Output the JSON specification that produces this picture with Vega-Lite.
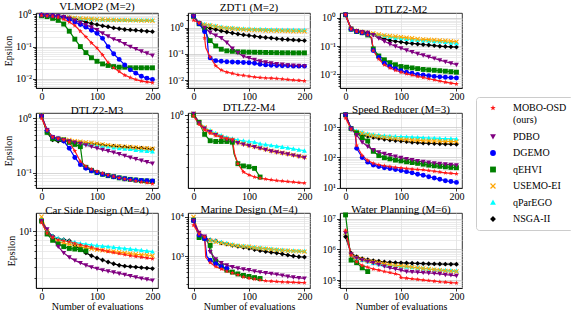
{
"$schema":"https://vega.github.io/schema/vega-lite/v6.json",
"padding":{"left":3,"top":0,"right":0,"bottom":0},
"data":{"values":[
{"p":1,"m":"NSGA-II","x":0,"y":0.95},{"p":1,"m":"NSGA-II","x":10,"y":0.93},{"p":1,"m":"NSGA-II","x":20,"y":0.9},{"p":1,"m":"NSGA-II","x":30,"y":0.87},{"p":1,"m":"NSGA-II","x":40,"y":0.83},{"p":1,"m":"NSGA-II","x":50,"y":0.78},{"p":1,"m":"NSGA-II","x":60,"y":0.72},{"p":1,"m":"NSGA-II","x":70,"y":0.65},{"p":1,"m":"NSGA-II","x":80,"y":0.58},{"p":1,"m":"NSGA-II","x":90,"y":0.52},{"p":1,"m":"NSGA-II","x":100,"y":0.48},{"p":1,"m":"NSGA-II","x":110,"y":0.44},{"p":1,"m":"NSGA-II","x":120,"y":0.41},{"p":1,"m":"NSGA-II","x":130,"y":0.38},{"p":1,"m":"NSGA-II","x":140,"y":0.36},{"p":1,"m":"NSGA-II","x":150,"y":0.34},{"p":1,"m":"NSGA-II","x":160,"y":0.33},{"p":1,"m":"NSGA-II","x":170,"y":0.32},{"p":1,"m":"NSGA-II","x":180,"y":0.31},{"p":1,"m":"NSGA-II","x":190,"y":0.3},{"p":1,"m":"NSGA-II","x":200,"y":0.29},
{"p":1,"m":"qParEGO","x":0,"y":0.95},{"p":1,"m":"qParEGO","x":10,"y":0.92},{"p":1,"m":"qParEGO","x":20,"y":0.88},{"p":1,"m":"qParEGO","x":30,"y":0.85},{"p":1,"m":"qParEGO","x":40,"y":0.82},{"p":1,"m":"qParEGO","x":50,"y":0.79},{"p":1,"m":"qParEGO","x":60,"y":0.76},{"p":1,"m":"qParEGO","x":70,"y":0.74},{"p":1,"m":"qParEGO","x":80,"y":0.72},{"p":1,"m":"qParEGO","x":90,"y":0.71},{"p":1,"m":"qParEGO","x":100,"y":0.7},{"p":1,"m":"qParEGO","x":110,"y":0.69},{"p":1,"m":"qParEGO","x":120,"y":0.68},{"p":1,"m":"qParEGO","x":130,"y":0.68},{"p":1,"m":"qParEGO","x":140,"y":0.67},{"p":1,"m":"qParEGO","x":150,"y":0.67},{"p":1,"m":"qParEGO","x":160,"y":0.67},{"p":1,"m":"qParEGO","x":170,"y":0.66},{"p":1,"m":"qParEGO","x":180,"y":0.66},{"p":1,"m":"qParEGO","x":190,"y":0.66},{"p":1,"m":"qParEGO","x":200,"y":0.66},
{"p":1,"m":"USEMO-EI","x":0,"y":0.95},{"p":1,"m":"USEMO-EI","x":10,"y":0.92},{"p":1,"m":"USEMO-EI","x":20,"y":0.88},{"p":1,"m":"USEMO-EI","x":30,"y":0.85},{"p":1,"m":"USEMO-EI","x":40,"y":0.82},{"p":1,"m":"USEMO-EI","x":50,"y":0.8},{"p":1,"m":"USEMO-EI","x":60,"y":0.77},{"p":1,"m":"USEMO-EI","x":70,"y":0.75},{"p":1,"m":"USEMO-EI","x":80,"y":0.73},{"p":1,"m":"USEMO-EI","x":90,"y":0.72},{"p":1,"m":"USEMO-EI","x":100,"y":0.7},{"p":1,"m":"USEMO-EI","x":110,"y":0.69},{"p":1,"m":"USEMO-EI","x":120,"y":0.68},{"p":1,"m":"USEMO-EI","x":130,"y":0.67},{"p":1,"m":"USEMO-EI","x":140,"y":0.66},{"p":1,"m":"USEMO-EI","x":150,"y":0.66},{"p":1,"m":"USEMO-EI","x":160,"y":0.65},{"p":1,"m":"USEMO-EI","x":170,"y":0.65},{"p":1,"m":"USEMO-EI","x":180,"y":0.64},{"p":1,"m":"USEMO-EI","x":190,"y":0.64},{"p":1,"m":"USEMO-EI","x":200,"y":0.63},
{"p":1,"m":"qEHVI","x":0,"y":0.9},{"p":1,"m":"qEHVI","x":10,"y":0.85},{"p":1,"m":"qEHVI","x":20,"y":0.75},{"p":1,"m":"qEHVI","x":30,"y":0.65},{"p":1,"m":"qEHVI","x":40,"y":0.5},{"p":1,"m":"qEHVI","x":50,"y":0.3},{"p":1,"m":"qEHVI","x":60,"y":0.17},{"p":1,"m":"qEHVI","x":70,"y":0.1},{"p":1,"m":"qEHVI","x":80,"y":0.065},{"p":1,"m":"qEHVI","x":90,"y":0.045},{"p":1,"m":"qEHVI","x":100,"y":0.035},{"p":1,"m":"qEHVI","x":110,"y":0.029},{"p":1,"m":"qEHVI","x":120,"y":0.026},{"p":1,"m":"qEHVI","x":130,"y":0.024},{"p":1,"m":"qEHVI","x":140,"y":0.023},{"p":1,"m":"qEHVI","x":150,"y":0.023},{"p":1,"m":"qEHVI","x":160,"y":0.022},{"p":1,"m":"qEHVI","x":170,"y":0.022},{"p":1,"m":"qEHVI","x":180,"y":0.022},{"p":1,"m":"qEHVI","x":190,"y":0.022},{"p":1,"m":"qEHVI","x":200,"y":0.022},
{"p":1,"m":"DGEMO","x":0,"y":0.95},{"p":1,"m":"DGEMO","x":10,"y":0.93},{"p":1,"m":"DGEMO","x":20,"y":0.9},{"p":1,"m":"DGEMO","x":30,"y":0.87},{"p":1,"m":"DGEMO","x":40,"y":0.82},{"p":1,"m":"DGEMO","x":50,"y":0.7},{"p":1,"m":"DGEMO","x":60,"y":0.58},{"p":1,"m":"DGEMO","x":70,"y":0.48},{"p":1,"m":"DGEMO","x":80,"y":0.4},{"p":1,"m":"DGEMO","x":90,"y":0.32},{"p":1,"m":"DGEMO","x":100,"y":0.26},{"p":1,"m":"DGEMO","x":110,"y":0.18},{"p":1,"m":"DGEMO","x":120,"y":0.1},{"p":1,"m":"DGEMO","x":130,"y":0.06},{"p":1,"m":"DGEMO","x":140,"y":0.04},{"p":1,"m":"DGEMO","x":150,"y":0.027},{"p":1,"m":"DGEMO","x":160,"y":0.019},{"p":1,"m":"DGEMO","x":170,"y":0.015},{"p":1,"m":"DGEMO","x":180,"y":0.012},{"p":1,"m":"DGEMO","x":190,"y":0.0105},{"p":1,"m":"DGEMO","x":200,"y":0.0095},
{"p":1,"m":"PDBO","x":0,"y":0.95},{"p":1,"m":"PDBO","x":10,"y":0.93},{"p":1,"m":"PDBO","x":20,"y":0.9},{"p":1,"m":"PDBO","x":30,"y":0.87},{"p":1,"m":"PDBO","x":40,"y":0.83},{"p":1,"m":"PDBO","x":50,"y":0.75},{"p":1,"m":"PDBO","x":60,"y":0.65},{"p":1,"m":"PDBO","x":70,"y":0.55},{"p":1,"m":"PDBO","x":80,"y":0.47},{"p":1,"m":"PDBO","x":90,"y":0.4},{"p":1,"m":"PDBO","x":100,"y":0.33},{"p":1,"m":"PDBO","x":110,"y":0.26},{"p":1,"m":"PDBO","x":120,"y":0.21},{"p":1,"m":"PDBO","x":130,"y":0.17},{"p":1,"m":"PDBO","x":140,"y":0.15},{"p":1,"m":"PDBO","x":150,"y":0.12},{"p":1,"m":"PDBO","x":160,"y":0.1},{"p":1,"m":"PDBO","x":170,"y":0.085},{"p":1,"m":"PDBO","x":180,"y":0.072},{"p":1,"m":"PDBO","x":190,"y":0.062},{"p":1,"m":"PDBO","x":200,"y":0.053},
{"p":1,"m":"MOBO-OSD","x":0,"y":0.9},{"p":1,"m":"MOBO-OSD","x":10,"y":0.88},{"p":1,"m":"MOBO-OSD","x":20,"y":0.85},{"p":1,"m":"MOBO-OSD","x":30,"y":0.8},{"p":1,"m":"MOBO-OSD","x":40,"y":0.7},{"p":1,"m":"MOBO-OSD","x":50,"y":0.58},{"p":1,"m":"MOBO-OSD","x":60,"y":0.45},{"p":1,"m":"MOBO-OSD","x":70,"y":0.3},{"p":1,"m":"MOBO-OSD","x":80,"y":0.2},{"p":1,"m":"MOBO-OSD","x":90,"y":0.13},{"p":1,"m":"MOBO-OSD","x":100,"y":0.09},{"p":1,"m":"MOBO-OSD","x":110,"y":0.055},{"p":1,"m":"MOBO-OSD","x":120,"y":0.032},{"p":1,"m":"MOBO-OSD","x":130,"y":0.022},{"p":1,"m":"MOBO-OSD","x":140,"y":0.017},{"p":1,"m":"MOBO-OSD","x":150,"y":0.013},{"p":1,"m":"MOBO-OSD","x":160,"y":0.011},{"p":1,"m":"MOBO-OSD","x":170,"y":0.0095},{"p":1,"m":"MOBO-OSD","x":180,"y":0.0085},{"p":1,"m":"MOBO-OSD","x":190,"y":0.008},{"p":1,"m":"MOBO-OSD","x":200,"y":0.0076},

{"p":2,"m":"NSGA-II","x":0,"y":2.7},{"p":2,"m":"NSGA-II","x":10,"y":1.5},{"p":2,"m":"NSGA-II","x":20,"y":1.1},{"p":2,"m":"NSGA-II","x":30,"y":0.95},{"p":2,"m":"NSGA-II","x":40,"y":0.85},{"p":2,"m":"NSGA-II","x":50,"y":0.75},{"p":2,"m":"NSGA-II","x":60,"y":0.68},{"p":2,"m":"NSGA-II","x":70,"y":0.62},{"p":2,"m":"NSGA-II","x":80,"y":0.57},{"p":2,"m":"NSGA-II","x":90,"y":0.53},{"p":2,"m":"NSGA-II","x":100,"y":0.5},{"p":2,"m":"NSGA-II","x":110,"y":0.47},{"p":2,"m":"NSGA-II","x":120,"y":0.44},{"p":2,"m":"NSGA-II","x":130,"y":0.42},{"p":2,"m":"NSGA-II","x":140,"y":0.4},{"p":2,"m":"NSGA-II","x":150,"y":0.38},{"p":2,"m":"NSGA-II","x":160,"y":0.36},{"p":2,"m":"NSGA-II","x":170,"y":0.35},{"p":2,"m":"NSGA-II","x":180,"y":0.34},{"p":2,"m":"NSGA-II","x":190,"y":0.33},{"p":2,"m":"NSGA-II","x":200,"y":0.32},
{"p":2,"m":"qParEGO","x":0,"y":2.7},{"p":2,"m":"qParEGO","x":10,"y":1.6},{"p":2,"m":"qParEGO","x":20,"y":1.35},{"p":2,"m":"qParEGO","x":30,"y":1.25},{"p":2,"m":"qParEGO","x":40,"y":1.15},{"p":2,"m":"qParEGO","x":50,"y":1.05},{"p":2,"m":"qParEGO","x":60,"y":1.0},{"p":2,"m":"qParEGO","x":70,"y":0.97},{"p":2,"m":"qParEGO","x":80,"y":0.93},{"p":2,"m":"qParEGO","x":90,"y":0.9},{"p":2,"m":"qParEGO","x":100,"y":0.88},{"p":2,"m":"qParEGO","x":110,"y":0.87},{"p":2,"m":"qParEGO","x":120,"y":0.86},{"p":2,"m":"qParEGO","x":130,"y":0.85},{"p":2,"m":"qParEGO","x":140,"y":0.84},{"p":2,"m":"qParEGO","x":150,"y":0.83},{"p":2,"m":"qParEGO","x":160,"y":0.82},{"p":2,"m":"qParEGO","x":170,"y":0.82},{"p":2,"m":"qParEGO","x":180,"y":0.81},{"p":2,"m":"qParEGO","x":190,"y":0.8},{"p":2,"m":"qParEGO","x":200,"y":0.8},
{"p":2,"m":"USEMO-EI","x":0,"y":2.7},{"p":2,"m":"USEMO-EI","x":10,"y":1.5},{"p":2,"m":"USEMO-EI","x":20,"y":1.3},{"p":2,"m":"USEMO-EI","x":30,"y":1.2},{"p":2,"m":"USEMO-EI","x":40,"y":1.1},{"p":2,"m":"USEMO-EI","x":50,"y":1.0},{"p":2,"m":"USEMO-EI","x":60,"y":0.95},{"p":2,"m":"USEMO-EI","x":70,"y":0.92},{"p":2,"m":"USEMO-EI","x":80,"y":0.88},{"p":2,"m":"USEMO-EI","x":90,"y":0.85},{"p":2,"m":"USEMO-EI","x":100,"y":0.83},{"p":2,"m":"USEMO-EI","x":110,"y":0.81},{"p":2,"m":"USEMO-EI","x":120,"y":0.8},{"p":2,"m":"USEMO-EI","x":130,"y":0.78},{"p":2,"m":"USEMO-EI","x":140,"y":0.77},{"p":2,"m":"USEMO-EI","x":150,"y":0.76},{"p":2,"m":"USEMO-EI","x":160,"y":0.75},{"p":2,"m":"USEMO-EI","x":170,"y":0.74},{"p":2,"m":"USEMO-EI","x":180,"y":0.73},{"p":2,"m":"USEMO-EI","x":190,"y":0.72},{"p":2,"m":"USEMO-EI","x":200,"y":0.72},
{"p":2,"m":"qEHVI","x":0,"y":2.7},{"p":2,"m":"qEHVI","x":10,"y":1.4},{"p":2,"m":"qEHVI","x":20,"y":0.85},{"p":2,"m":"qEHVI","x":25,"y":0.45},{"p":2,"m":"qEHVI","x":30,"y":0.32},{"p":2,"m":"qEHVI","x":40,"y":0.2},{"p":2,"m":"qEHVI","x":50,"y":0.15},{"p":2,"m":"qEHVI","x":60,"y":0.13},{"p":2,"m":"qEHVI","x":70,"y":0.125},{"p":2,"m":"qEHVI","x":80,"y":0.12},{"p":2,"m":"qEHVI","x":90,"y":0.118},{"p":2,"m":"qEHVI","x":100,"y":0.116},{"p":2,"m":"qEHVI","x":110,"y":0.115},{"p":2,"m":"qEHVI","x":120,"y":0.114},{"p":2,"m":"qEHVI","x":130,"y":0.113},{"p":2,"m":"qEHVI","x":140,"y":0.112},{"p":2,"m":"qEHVI","x":150,"y":0.111},{"p":2,"m":"qEHVI","x":160,"y":0.11},{"p":2,"m":"qEHVI","x":170,"y":0.11},{"p":2,"m":"qEHVI","x":180,"y":0.109},{"p":2,"m":"qEHVI","x":190,"y":0.109},{"p":2,"m":"qEHVI","x":200,"y":0.109},
{"p":2,"m":"DGEMO","x":0,"y":2.7},{"p":2,"m":"DGEMO","x":10,"y":1.4},{"p":2,"m":"DGEMO","x":20,"y":0.7},{"p":2,"m":"DGEMO","x":24,"y":0.55},{"p":2,"m":"DGEMO","x":27,"y":0.09},{"p":2,"m":"DGEMO","x":30,"y":0.07},{"p":2,"m":"DGEMO","x":40,"y":0.055},{"p":2,"m":"DGEMO","x":50,"y":0.052},{"p":2,"m":"DGEMO","x":60,"y":0.05},{"p":2,"m":"DGEMO","x":70,"y":0.049},{"p":2,"m":"DGEMO","x":80,"y":0.048},{"p":2,"m":"DGEMO","x":90,"y":0.047},{"p":2,"m":"DGEMO","x":100,"y":0.046},{"p":2,"m":"DGEMO","x":110,"y":0.044},{"p":2,"m":"DGEMO","x":120,"y":0.04},{"p":2,"m":"DGEMO","x":130,"y":0.038},{"p":2,"m":"DGEMO","x":140,"y":0.037},{"p":2,"m":"DGEMO","x":150,"y":0.036},{"p":2,"m":"DGEMO","x":160,"y":0.035},{"p":2,"m":"DGEMO","x":170,"y":0.035},{"p":2,"m":"DGEMO","x":180,"y":0.034},{"p":2,"m":"DGEMO","x":190,"y":0.034},{"p":2,"m":"DGEMO","x":200,"y":0.034},
{"p":2,"m":"PDBO","x":0,"y":2.7},{"p":2,"m":"PDBO","x":10,"y":1.5},{"p":2,"m":"PDBO","x":20,"y":1.0},{"p":2,"m":"PDBO","x":30,"y":0.65},{"p":2,"m":"PDBO","x":40,"y":0.5},{"p":2,"m":"PDBO","x":50,"y":0.4},{"p":2,"m":"PDBO","x":60,"y":0.27},{"p":2,"m":"PDBO","x":70,"y":0.16},{"p":2,"m":"PDBO","x":80,"y":0.11},{"p":2,"m":"PDBO","x":90,"y":0.08},{"p":2,"m":"PDBO","x":100,"y":0.07},{"p":2,"m":"PDBO","x":110,"y":0.06},{"p":2,"m":"PDBO","x":120,"y":0.052},{"p":2,"m":"PDBO","x":130,"y":0.048},{"p":2,"m":"PDBO","x":140,"y":0.044},{"p":2,"m":"PDBO","x":150,"y":0.041},{"p":2,"m":"PDBO","x":160,"y":0.039},{"p":2,"m":"PDBO","x":170,"y":0.037},{"p":2,"m":"PDBO","x":180,"y":0.036},{"p":2,"m":"PDBO","x":190,"y":0.035},{"p":2,"m":"PDBO","x":200,"y":0.034},
{"p":2,"m":"MOBO-OSD","x":0,"y":1.9},{"p":2,"m":"MOBO-OSD","x":10,"y":1.5},{"p":2,"m":"MOBO-OSD","x":19,"y":1.15},{"p":2,"m":"MOBO-OSD","x":20,"y":0.4},{"p":2,"m":"MOBO-OSD","x":22,"y":0.17},{"p":2,"m":"MOBO-OSD","x":30,"y":0.075},{"p":2,"m":"MOBO-OSD","x":40,"y":0.035},{"p":2,"m":"MOBO-OSD","x":50,"y":0.024},{"p":2,"m":"MOBO-OSD","x":60,"y":0.02},{"p":2,"m":"MOBO-OSD","x":70,"y":0.018},{"p":2,"m":"MOBO-OSD","x":80,"y":0.016},{"p":2,"m":"MOBO-OSD","x":90,"y":0.015},{"p":2,"m":"MOBO-OSD","x":100,"y":0.014},{"p":2,"m":"MOBO-OSD","x":110,"y":0.013},{"p":2,"m":"MOBO-OSD","x":120,"y":0.0125},{"p":2,"m":"MOBO-OSD","x":130,"y":0.012},{"p":2,"m":"MOBO-OSD","x":140,"y":0.0118},{"p":2,"m":"MOBO-OSD","x":150,"y":0.0115},{"p":2,"m":"MOBO-OSD","x":160,"y":0.011},{"p":2,"m":"MOBO-OSD","x":170,"y":0.0105},{"p":2,"m":"MOBO-OSD","x":180,"y":0.01},{"p":2,"m":"MOBO-OSD","x":190,"y":0.0097},{"p":2,"m":"MOBO-OSD","x":200,"y":0.0093},

{"p":3,"m":"NSGA-II","x":0,"y":1.3},{"p":3,"m":"NSGA-II","x":10,"y":0.42},{"p":3,"m":"NSGA-II","x":20,"y":0.35},{"p":3,"m":"NSGA-II","x":30,"y":0.32},{"p":3,"m":"NSGA-II","x":40,"y":0.3},{"p":3,"m":"NSGA-II","x":50,"y":0.26},{"p":3,"m":"NSGA-II","x":60,"y":0.21},{"p":3,"m":"NSGA-II","x":70,"y":0.18},{"p":3,"m":"NSGA-II","x":80,"y":0.16},{"p":3,"m":"NSGA-II","x":90,"y":0.15},{"p":3,"m":"NSGA-II","x":100,"y":0.14},{"p":3,"m":"NSGA-II","x":110,"y":0.13},{"p":3,"m":"NSGA-II","x":120,"y":0.125},{"p":3,"m":"NSGA-II","x":130,"y":0.12},{"p":3,"m":"NSGA-II","x":140,"y":0.115},{"p":3,"m":"NSGA-II","x":150,"y":0.11},{"p":3,"m":"NSGA-II","x":160,"y":0.105},{"p":3,"m":"NSGA-II","x":170,"y":0.1},{"p":3,"m":"NSGA-II","x":180,"y":0.097},{"p":3,"m":"NSGA-II","x":190,"y":0.095},{"p":3,"m":"NSGA-II","x":200,"y":0.093},
{"p":3,"m":"qParEGO","x":0,"y":1.3},{"p":3,"m":"qParEGO","x":10,"y":0.4},{"p":3,"m":"qParEGO","x":20,"y":0.34},{"p":3,"m":"qParEGO","x":30,"y":0.31},{"p":3,"m":"qParEGO","x":40,"y":0.29},{"p":3,"m":"qParEGO","x":50,"y":0.27},{"p":3,"m":"qParEGO","x":60,"y":0.25},{"p":3,"m":"qParEGO","x":70,"y":0.23},{"p":3,"m":"qParEGO","x":80,"y":0.21},{"p":3,"m":"qParEGO","x":90,"y":0.2},{"p":3,"m":"qParEGO","x":100,"y":0.19},{"p":3,"m":"qParEGO","x":110,"y":0.18},{"p":3,"m":"qParEGO","x":120,"y":0.17},{"p":3,"m":"qParEGO","x":130,"y":0.165},{"p":3,"m":"qParEGO","x":140,"y":0.16},{"p":3,"m":"qParEGO","x":150,"y":0.155},{"p":3,"m":"qParEGO","x":160,"y":0.15},{"p":3,"m":"qParEGO","x":170,"y":0.145},{"p":3,"m":"qParEGO","x":180,"y":0.14},{"p":3,"m":"qParEGO","x":190,"y":0.133},{"p":3,"m":"qParEGO","x":200,"y":0.127},
{"p":3,"m":"USEMO-EI","x":0,"y":1.3},{"p":3,"m":"USEMO-EI","x":10,"y":0.42},{"p":3,"m":"USEMO-EI","x":20,"y":0.35},{"p":3,"m":"USEMO-EI","x":30,"y":0.32},{"p":3,"m":"USEMO-EI","x":40,"y":0.3},{"p":3,"m":"USEMO-EI","x":50,"y":0.28},{"p":3,"m":"USEMO-EI","x":60,"y":0.26},{"p":3,"m":"USEMO-EI","x":70,"y":0.24},{"p":3,"m":"USEMO-EI","x":80,"y":0.23},{"p":3,"m":"USEMO-EI","x":90,"y":0.22},{"p":3,"m":"USEMO-EI","x":100,"y":0.21},{"p":3,"m":"USEMO-EI","x":110,"y":0.2},{"p":3,"m":"USEMO-EI","x":120,"y":0.19},{"p":3,"m":"USEMO-EI","x":130,"y":0.18},{"p":3,"m":"USEMO-EI","x":140,"y":0.175},{"p":3,"m":"USEMO-EI","x":150,"y":0.17},{"p":3,"m":"USEMO-EI","x":160,"y":0.165},{"p":3,"m":"USEMO-EI","x":170,"y":0.16},{"p":3,"m":"USEMO-EI","x":180,"y":0.155},{"p":3,"m":"USEMO-EI","x":190,"y":0.15},{"p":3,"m":"USEMO-EI","x":200,"y":0.145},
{"p":3,"m":"qEHVI","x":0,"y":1.3},{"p":3,"m":"qEHVI","x":10,"y":0.4},{"p":3,"m":"qEHVI","x":20,"y":0.33},{"p":3,"m":"qEHVI","x":30,"y":0.3},{"p":3,"m":"qEHVI","x":40,"y":0.25},{"p":3,"m":"qEHVI","x":46,"y":0.2},{"p":3,"m":"qEHVI","x":50,"y":0.08},{"p":3,"m":"qEHVI","x":60,"y":0.045},{"p":3,"m":"qEHVI","x":70,"y":0.033},{"p":3,"m":"qEHVI","x":80,"y":0.026},{"p":3,"m":"qEHVI","x":90,"y":0.022},{"p":3,"m":"qEHVI","x":100,"y":0.019},{"p":3,"m":"qEHVI","x":110,"y":0.018},{"p":3,"m":"qEHVI","x":120,"y":0.017},{"p":3,"m":"qEHVI","x":130,"y":0.016},{"p":3,"m":"qEHVI","x":140,"y":0.015},{"p":3,"m":"qEHVI","x":150,"y":0.0145},{"p":3,"m":"qEHVI","x":160,"y":0.014},{"p":3,"m":"qEHVI","x":170,"y":0.0135},{"p":3,"m":"qEHVI","x":180,"y":0.013},{"p":3,"m":"qEHVI","x":190,"y":0.0125},{"p":3,"m":"qEHVI","x":200,"y":0.012},
{"p":3,"m":"DGEMO","x":0,"y":1.3},{"p":3,"m":"DGEMO","x":10,"y":0.4},{"p":3,"m":"DGEMO","x":20,"y":0.33},{"p":3,"m":"DGEMO","x":30,"y":0.3},{"p":3,"m":"DGEMO","x":40,"y":0.26},{"p":3,"m":"DGEMO","x":47,"y":0.2},{"p":3,"m":"DGEMO","x":50,"y":0.07},{"p":3,"m":"DGEMO","x":60,"y":0.04},{"p":3,"m":"DGEMO","x":70,"y":0.025},{"p":3,"m":"DGEMO","x":80,"y":0.019},{"p":3,"m":"DGEMO","x":90,"y":0.016},{"p":3,"m":"DGEMO","x":100,"y":0.0135},{"p":3,"m":"DGEMO","x":110,"y":0.012},{"p":3,"m":"DGEMO","x":120,"y":0.011},{"p":3,"m":"DGEMO","x":130,"y":0.01},{"p":3,"m":"DGEMO","x":140,"y":0.0095},{"p":3,"m":"DGEMO","x":150,"y":0.009},{"p":3,"m":"DGEMO","x":160,"y":0.0085},{"p":3,"m":"DGEMO","x":170,"y":0.0082},{"p":3,"m":"DGEMO","x":180,"y":0.0079},{"p":3,"m":"DGEMO","x":190,"y":0.0077},{"p":3,"m":"DGEMO","x":200,"y":0.0075},
{"p":3,"m":"PDBO","x":0,"y":1.3},{"p":3,"m":"PDBO","x":10,"y":0.42},{"p":3,"m":"PDBO","x":20,"y":0.35},{"p":3,"m":"PDBO","x":30,"y":0.32},{"p":3,"m":"PDBO","x":40,"y":0.3},{"p":3,"m":"PDBO","x":50,"y":0.25},{"p":3,"m":"PDBO","x":60,"y":0.19},{"p":3,"m":"PDBO","x":70,"y":0.15},{"p":3,"m":"PDBO","x":80,"y":0.12},{"p":3,"m":"PDBO","x":90,"y":0.1},{"p":3,"m":"PDBO","x":100,"y":0.085},{"p":3,"m":"PDBO","x":110,"y":0.072},{"p":3,"m":"PDBO","x":120,"y":0.062},{"p":3,"m":"PDBO","x":130,"y":0.054},{"p":3,"m":"PDBO","x":140,"y":0.048},{"p":3,"m":"PDBO","x":150,"y":0.042},{"p":3,"m":"PDBO","x":160,"y":0.037},{"p":3,"m":"PDBO","x":170,"y":0.032},{"p":3,"m":"PDBO","x":180,"y":0.028},{"p":3,"m":"PDBO","x":190,"y":0.025},{"p":3,"m":"PDBO","x":200,"y":0.022},
{"p":3,"m":"MOBO-OSD","x":0,"y":1.3},{"p":3,"m":"MOBO-OSD","x":10,"y":0.4},{"p":3,"m":"MOBO-OSD","x":20,"y":0.33},{"p":3,"m":"MOBO-OSD","x":30,"y":0.3},{"p":3,"m":"MOBO-OSD","x":40,"y":0.25},{"p":3,"m":"MOBO-OSD","x":47,"y":0.2},{"p":3,"m":"MOBO-OSD","x":50,"y":0.07},{"p":3,"m":"MOBO-OSD","x":60,"y":0.035},{"p":3,"m":"MOBO-OSD","x":70,"y":0.022},{"p":3,"m":"MOBO-OSD","x":80,"y":0.017},{"p":3,"m":"MOBO-OSD","x":90,"y":0.014},{"p":3,"m":"MOBO-OSD","x":100,"y":0.012},{"p":3,"m":"MOBO-OSD","x":110,"y":0.0105},{"p":3,"m":"MOBO-OSD","x":120,"y":0.0095},{"p":3,"m":"MOBO-OSD","x":130,"y":0.0085},{"p":3,"m":"MOBO-OSD","x":140,"y":0.0078},{"p":3,"m":"MOBO-OSD","x":150,"y":0.007},{"p":3,"m":"MOBO-OSD","x":160,"y":0.0064},{"p":3,"m":"MOBO-OSD","x":170,"y":0.0058},{"p":3,"m":"MOBO-OSD","x":180,"y":0.0053},{"p":3,"m":"MOBO-OSD","x":190,"y":0.0049},{"p":3,"m":"MOBO-OSD","x":200,"y":0.0046},

{"p":4,"m":"NSGA-II","x":0,"y":1.1},{"p":4,"m":"NSGA-II","x":10,"y":0.55},{"p":4,"m":"NSGA-II","x":20,"y":0.4},{"p":4,"m":"NSGA-II","x":30,"y":0.38},{"p":4,"m":"NSGA-II","x":40,"y":0.38},{"p":4,"m":"NSGA-II","x":50,"y":0.37},{"p":4,"m":"NSGA-II","x":60,"y":0.36},{"p":4,"m":"NSGA-II","x":70,"y":0.35},{"p":4,"m":"NSGA-II","x":80,"y":0.34},{"p":4,"m":"NSGA-II","x":90,"y":0.335},{"p":4,"m":"NSGA-II","x":100,"y":0.33},{"p":4,"m":"NSGA-II","x":110,"y":0.32},{"p":4,"m":"NSGA-II","x":120,"y":0.31},{"p":4,"m":"NSGA-II","x":130,"y":0.305},{"p":4,"m":"NSGA-II","x":140,"y":0.3},{"p":4,"m":"NSGA-II","x":150,"y":0.295},{"p":4,"m":"NSGA-II","x":160,"y":0.29},{"p":4,"m":"NSGA-II","x":170,"y":0.285},{"p":4,"m":"NSGA-II","x":180,"y":0.28},{"p":4,"m":"NSGA-II","x":190,"y":0.275},{"p":4,"m":"NSGA-II","x":200,"y":0.27},
{"p":4,"m":"qParEGO","x":0,"y":1.1},{"p":4,"m":"qParEGO","x":10,"y":0.6},{"p":4,"m":"qParEGO","x":20,"y":0.45},{"p":4,"m":"qParEGO","x":30,"y":0.42},{"p":4,"m":"qParEGO","x":40,"y":0.4},{"p":4,"m":"qParEGO","x":50,"y":0.38},{"p":4,"m":"qParEGO","x":60,"y":0.36},{"p":4,"m":"qParEGO","x":70,"y":0.35},{"p":4,"m":"qParEGO","x":80,"y":0.34},{"p":4,"m":"qParEGO","x":90,"y":0.33},{"p":4,"m":"qParEGO","x":100,"y":0.32},{"p":4,"m":"qParEGO","x":110,"y":0.31},{"p":4,"m":"qParEGO","x":120,"y":0.3},{"p":4,"m":"qParEGO","x":130,"y":0.29},{"p":4,"m":"qParEGO","x":140,"y":0.28},{"p":4,"m":"qParEGO","x":150,"y":0.275},{"p":4,"m":"qParEGO","x":160,"y":0.27},{"p":4,"m":"qParEGO","x":170,"y":0.26},{"p":4,"m":"qParEGO","x":180,"y":0.255},{"p":4,"m":"qParEGO","x":190,"y":0.25},{"p":4,"m":"qParEGO","x":200,"y":0.245},
{"p":4,"m":"USEMO-EI","x":0,"y":1.15},{"p":4,"m":"USEMO-EI","x":10,"y":0.6},{"p":4,"m":"USEMO-EI","x":20,"y":0.45},{"p":4,"m":"USEMO-EI","x":30,"y":0.42},{"p":4,"m":"USEMO-EI","x":40,"y":0.41},{"p":4,"m":"USEMO-EI","x":50,"y":0.4},{"p":4,"m":"USEMO-EI","x":60,"y":0.38},{"p":4,"m":"USEMO-EI","x":70,"y":0.37},{"p":4,"m":"USEMO-EI","x":80,"y":0.36},{"p":4,"m":"USEMO-EI","x":90,"y":0.35},{"p":4,"m":"USEMO-EI","x":100,"y":0.34},{"p":4,"m":"USEMO-EI","x":110,"y":0.33},{"p":4,"m":"USEMO-EI","x":120,"y":0.32},{"p":4,"m":"USEMO-EI","x":130,"y":0.31},{"p":4,"m":"USEMO-EI","x":140,"y":0.305},{"p":4,"m":"USEMO-EI","x":150,"y":0.3},{"p":4,"m":"USEMO-EI","x":160,"y":0.295},{"p":4,"m":"USEMO-EI","x":170,"y":0.29},{"p":4,"m":"USEMO-EI","x":180,"y":0.285},{"p":4,"m":"USEMO-EI","x":190,"y":0.28},{"p":4,"m":"USEMO-EI","x":200,"y":0.275},
{"p":4,"m":"qEHVI","x":0,"y":1.1},{"p":4,"m":"qEHVI","x":10,"y":0.55},{"p":4,"m":"qEHVI","x":20,"y":0.42},{"p":4,"m":"qEHVI","x":30,"y":0.41},{"p":4,"m":"qEHVI","x":40,"y":0.4},{"p":4,"m":"qEHVI","x":50,"y":0.36},{"p":4,"m":"qEHVI","x":60,"y":0.33},{"p":4,"m":"qEHVI","x":70,"y":0.3},{"p":4,"m":"qEHVI","x":74,"y":0.15},{"p":4,"m":"qEHVI","x":80,"y":0.125},{"p":4,"m":"qEHVI","x":90,"y":0.11},{"p":4,"m":"qEHVI","x":100,"y":0.1},{"p":4,"m":"qEHVI","x":110,"y":0.093},{"p":4,"m":"qEHVI","x":120,"y":0.088},{"p":4,"m":"qEHVI","x":130,"y":0.084},{"p":4,"m":"qEHVI","x":140,"y":0.08},{"p":4,"m":"qEHVI","x":150,"y":0.077},{"p":4,"m":"qEHVI","x":160,"y":0.075},{"p":4,"m":"qEHVI","x":170,"y":0.073},{"p":4,"m":"qEHVI","x":180,"y":0.071},{"p":4,"m":"qEHVI","x":190,"y":0.07},{"p":4,"m":"qEHVI","x":200,"y":0.069},
{"p":4,"m":"DGEMO","x":0,"y":1.1},{"p":4,"m":"DGEMO","x":10,"y":0.6},{"p":4,"m":"DGEMO","x":20,"y":0.45},{"p":4,"m":"DGEMO","x":30,"y":0.42},{"p":4,"m":"DGEMO","x":40,"y":0.38},{"p":4,"m":"DGEMO","x":50,"y":0.28},{"p":4,"m":"DGEMO","x":60,"y":0.19},{"p":4,"m":"DGEMO","x":70,"y":0.14},{"p":4,"m":"DGEMO","x":80,"y":0.12},{"p":4,"m":"DGEMO","x":90,"y":0.108},{"p":4,"m":"DGEMO","x":100,"y":0.1},{"p":4,"m":"DGEMO","x":110,"y":0.093},{"p":4,"m":"DGEMO","x":120,"y":0.088},{"p":4,"m":"DGEMO","x":130,"y":0.084},{"p":4,"m":"DGEMO","x":140,"y":0.08},{"p":4,"m":"DGEMO","x":150,"y":0.077},{"p":4,"m":"DGEMO","x":160,"y":0.075},{"p":4,"m":"DGEMO","x":170,"y":0.073},{"p":4,"m":"DGEMO","x":180,"y":0.072},{"p":4,"m":"DGEMO","x":190,"y":0.071},{"p":4,"m":"DGEMO","x":200,"y":0.07},
{"p":4,"m":"PDBO","x":0,"y":1.1},{"p":4,"m":"PDBO","x":10,"y":0.6},{"p":4,"m":"PDBO","x":20,"y":0.45},{"p":4,"m":"PDBO","x":30,"y":0.42},{"p":4,"m":"PDBO","x":40,"y":0.4},{"p":4,"m":"PDBO","x":50,"y":0.38},{"p":4,"m":"PDBO","x":60,"y":0.36},{"p":4,"m":"PDBO","x":70,"y":0.34},{"p":4,"m":"PDBO","x":80,"y":0.32},{"p":4,"m":"PDBO","x":90,"y":0.3},{"p":4,"m":"PDBO","x":100,"y":0.28},{"p":4,"m":"PDBO","x":110,"y":0.265},{"p":4,"m":"PDBO","x":120,"y":0.25},{"p":4,"m":"PDBO","x":130,"y":0.235},{"p":4,"m":"PDBO","x":140,"y":0.22},{"p":4,"m":"PDBO","x":150,"y":0.205},{"p":4,"m":"PDBO","x":160,"y":0.19},{"p":4,"m":"PDBO","x":170,"y":0.178},{"p":4,"m":"PDBO","x":180,"y":0.167},{"p":4,"m":"PDBO","x":190,"y":0.157},{"p":4,"m":"PDBO","x":200,"y":0.147},
{"p":4,"m":"MOBO-OSD","x":0,"y":1.0},{"p":4,"m":"MOBO-OSD","x":10,"y":0.6},{"p":4,"m":"MOBO-OSD","x":20,"y":0.45},{"p":4,"m":"MOBO-OSD","x":30,"y":0.42},{"p":4,"m":"MOBO-OSD","x":40,"y":0.4},{"p":4,"m":"MOBO-OSD","x":50,"y":0.36},{"p":4,"m":"MOBO-OSD","x":60,"y":0.25},{"p":4,"m":"MOBO-OSD","x":70,"y":0.16},{"p":4,"m":"MOBO-OSD","x":80,"y":0.13},{"p":4,"m":"MOBO-OSD","x":90,"y":0.115},{"p":4,"m":"MOBO-OSD","x":100,"y":0.105},{"p":4,"m":"MOBO-OSD","x":110,"y":0.097},{"p":4,"m":"MOBO-OSD","x":120,"y":0.09},{"p":4,"m":"MOBO-OSD","x":130,"y":0.085},{"p":4,"m":"MOBO-OSD","x":140,"y":0.08},{"p":4,"m":"MOBO-OSD","x":150,"y":0.076},{"p":4,"m":"MOBO-OSD","x":160,"y":0.073},{"p":4,"m":"MOBO-OSD","x":170,"y":0.07},{"p":4,"m":"MOBO-OSD","x":180,"y":0.067},{"p":4,"m":"MOBO-OSD","x":190,"y":0.065},{"p":4,"m":"MOBO-OSD","x":200,"y":0.062},

{"p":5,"m":"qParEGO","x":0,"y":1.05},{"p":5,"m":"qParEGO","x":10,"y":0.8},{"p":5,"m":"qParEGO","x":20,"y":0.68},{"p":5,"m":"qParEGO","x":30,"y":0.62},{"p":5,"m":"qParEGO","x":40,"y":0.57},{"p":5,"m":"qParEGO","x":50,"y":0.53},{"p":5,"m":"qParEGO","x":60,"y":0.5},{"p":5,"m":"qParEGO","x":70,"y":0.48},{"p":5,"m":"qParEGO","x":80,"y":0.46},{"p":5,"m":"qParEGO","x":90,"y":0.45},{"p":5,"m":"qParEGO","x":100,"y":0.44},{"p":5,"m":"qParEGO","x":110,"y":0.43},{"p":5,"m":"qParEGO","x":120,"y":0.41},{"p":5,"m":"qParEGO","x":130,"y":0.4},{"p":5,"m":"qParEGO","x":140,"y":0.39},{"p":5,"m":"qParEGO","x":150,"y":0.38},{"p":5,"m":"qParEGO","x":160,"y":0.37},{"p":5,"m":"qParEGO","x":170,"y":0.36},{"p":5,"m":"qParEGO","x":180,"y":0.35},{"p":5,"m":"qParEGO","x":190,"y":0.34},{"p":5,"m":"qParEGO","x":200,"y":0.33},
{"p":5,"m":"USEMO-EI","x":0,"y":1.05},{"p":5,"m":"USEMO-EI","x":10,"y":0.8},{"p":5,"m":"USEMO-EI","x":20,"y":0.68},{"p":5,"m":"USEMO-EI","x":30,"y":0.6},{"p":5,"m":"USEMO-EI","x":40,"y":0.55},{"p":5,"m":"USEMO-EI","x":50,"y":0.51},{"p":5,"m":"USEMO-EI","x":60,"y":0.48},{"p":5,"m":"USEMO-EI","x":70,"y":0.46},{"p":5,"m":"USEMO-EI","x":80,"y":0.43},{"p":5,"m":"USEMO-EI","x":90,"y":0.41},{"p":5,"m":"USEMO-EI","x":100,"y":0.39},{"p":5,"m":"USEMO-EI","x":110,"y":0.375},{"p":5,"m":"USEMO-EI","x":120,"y":0.36},{"p":5,"m":"USEMO-EI","x":130,"y":0.345},{"p":5,"m":"USEMO-EI","x":140,"y":0.33},{"p":5,"m":"USEMO-EI","x":150,"y":0.32},{"p":5,"m":"USEMO-EI","x":160,"y":0.31},{"p":5,"m":"USEMO-EI","x":170,"y":0.3},{"p":5,"m":"USEMO-EI","x":180,"y":0.29},{"p":5,"m":"USEMO-EI","x":190,"y":0.28},{"p":5,"m":"USEMO-EI","x":200,"y":0.27},
{"p":5,"m":"qEHVI","x":0,"y":1.0},{"p":5,"m":"qEHVI","x":10,"y":0.8},{"p":5,"m":"qEHVI","x":20,"y":0.55},{"p":5,"m":"qEHVI","x":30,"y":0.45},{"p":5,"m":"qEHVI","x":40,"y":0.44},{"p":5,"m":"qEHVI","x":50,"y":0.44},{"p":5,"m":"qEHVI","x":60,"y":0.44},{"p":5,"m":"qEHVI","x":70,"y":0.43},{"p":5,"m":"qEHVI","x":73,"y":0.3},{"p":5,"m":"qEHVI","x":80,"y":0.22},{"p":5,"m":"qEHVI","x":90,"y":0.205},{"p":5,"m":"qEHVI","x":100,"y":0.2},{"p":5,"m":"qEHVI","x":110,"y":0.19},{"p":5,"m":"qEHVI","x":120,"y":0.145},
{"p":5,"m":"PDBO","x":0,"y":1.05},{"p":5,"m":"PDBO","x":10,"y":0.78},{"p":5,"m":"PDBO","x":20,"y":0.66},{"p":5,"m":"PDBO","x":30,"y":0.59},{"p":5,"m":"PDBO","x":40,"y":0.54},{"p":5,"m":"PDBO","x":50,"y":0.5},{"p":5,"m":"PDBO","x":60,"y":0.47},{"p":5,"m":"PDBO","x":70,"y":0.45},{"p":5,"m":"PDBO","x":80,"y":0.42},{"p":5,"m":"PDBO","x":90,"y":0.4},{"p":5,"m":"PDBO","x":100,"y":0.385},{"p":5,"m":"PDBO","x":110,"y":0.37},{"p":5,"m":"PDBO","x":120,"y":0.355},{"p":5,"m":"PDBO","x":130,"y":0.34},{"p":5,"m":"PDBO","x":140,"y":0.325},{"p":5,"m":"PDBO","x":150,"y":0.315},{"p":5,"m":"PDBO","x":160,"y":0.305},{"p":5,"m":"PDBO","x":170,"y":0.295},{"p":5,"m":"PDBO","x":180,"y":0.285},{"p":5,"m":"PDBO","x":190,"y":0.275},{"p":5,"m":"PDBO","x":200,"y":0.265},
{"p":5,"m":"MOBO-OSD","x":0,"y":0.97},{"p":5,"m":"MOBO-OSD","x":10,"y":0.75},{"p":5,"m":"MOBO-OSD","x":20,"y":0.63},{"p":5,"m":"MOBO-OSD","x":30,"y":0.57},{"p":5,"m":"MOBO-OSD","x":40,"y":0.53},{"p":5,"m":"MOBO-OSD","x":50,"y":0.5},{"p":5,"m":"MOBO-OSD","x":60,"y":0.48},{"p":5,"m":"MOBO-OSD","x":70,"y":0.47},{"p":5,"m":"MOBO-OSD","x":74,"y":0.3},{"p":5,"m":"MOBO-OSD","x":80,"y":0.22},{"p":5,"m":"MOBO-OSD","x":90,"y":0.17},{"p":5,"m":"MOBO-OSD","x":100,"y":0.155},{"p":5,"m":"MOBO-OSD","x":110,"y":0.145},{"p":5,"m":"MOBO-OSD","x":120,"y":0.14},{"p":5,"m":"MOBO-OSD","x":130,"y":0.136},{"p":5,"m":"MOBO-OSD","x":140,"y":0.133},{"p":5,"m":"MOBO-OSD","x":150,"y":0.13},{"p":5,"m":"MOBO-OSD","x":160,"y":0.128},{"p":5,"m":"MOBO-OSD","x":170,"y":0.126},{"p":5,"m":"MOBO-OSD","x":180,"y":0.124},{"p":5,"m":"MOBO-OSD","x":190,"y":0.122},{"p":5,"m":"MOBO-OSD","x":200,"y":0.12},

{"p":6,"m":"NSGA-II","x":0,"y":2600},{"p":6,"m":"NSGA-II","x":10,"y":850},{"p":6,"m":"NSGA-II","x":20,"y":650},{"p":6,"m":"NSGA-II","x":30,"y":560},{"p":6,"m":"NSGA-II","x":40,"y":500},{"p":6,"m":"NSGA-II","x":50,"y":460},{"p":6,"m":"NSGA-II","x":60,"y":430},{"p":6,"m":"NSGA-II","x":70,"y":400},{"p":6,"m":"NSGA-II","x":80,"y":380},{"p":6,"m":"NSGA-II","x":90,"y":365},{"p":6,"m":"NSGA-II","x":100,"y":350},{"p":6,"m":"NSGA-II","x":110,"y":335},{"p":6,"m":"NSGA-II","x":120,"y":320},{"p":6,"m":"NSGA-II","x":130,"y":310},{"p":6,"m":"NSGA-II","x":140,"y":300},{"p":6,"m":"NSGA-II","x":150,"y":295},{"p":6,"m":"NSGA-II","x":160,"y":290},{"p":6,"m":"NSGA-II","x":170,"y":285},{"p":6,"m":"NSGA-II","x":180,"y":280},{"p":6,"m":"NSGA-II","x":190,"y":278},{"p":6,"m":"NSGA-II","x":200,"y":275},
{"p":6,"m":"qParEGO","x":0,"y":2600},{"p":6,"m":"qParEGO","x":10,"y":950},{"p":6,"m":"qParEGO","x":20,"y":750},{"p":6,"m":"qParEGO","x":30,"y":670},{"p":6,"m":"qParEGO","x":40,"y":610},{"p":6,"m":"qParEGO","x":50,"y":570},{"p":6,"m":"qParEGO","x":60,"y":540},{"p":6,"m":"qParEGO","x":70,"y":520},{"p":6,"m":"qParEGO","x":80,"y":505},{"p":6,"m":"qParEGO","x":90,"y":495},{"p":6,"m":"qParEGO","x":100,"y":490},{"p":6,"m":"qParEGO","x":110,"y":480},{"p":6,"m":"qParEGO","x":120,"y":470},{"p":6,"m":"qParEGO","x":130,"y":460},{"p":6,"m":"qParEGO","x":140,"y":450},{"p":6,"m":"qParEGO","x":150,"y":440},{"p":6,"m":"qParEGO","x":160,"y":435},{"p":6,"m":"qParEGO","x":170,"y":425},{"p":6,"m":"qParEGO","x":180,"y":420},{"p":6,"m":"qParEGO","x":190,"y":415},{"p":6,"m":"qParEGO","x":200,"y":410},
{"p":6,"m":"USEMO-EI","x":0,"y":2600},{"p":6,"m":"USEMO-EI","x":10,"y":900},{"p":6,"m":"USEMO-EI","x":20,"y":700},{"p":6,"m":"USEMO-EI","x":30,"y":620},{"p":6,"m":"USEMO-EI","x":40,"y":560},{"p":6,"m":"USEMO-EI","x":50,"y":520},{"p":6,"m":"USEMO-EI","x":60,"y":490},{"p":6,"m":"USEMO-EI","x":70,"y":460},{"p":6,"m":"USEMO-EI","x":80,"y":440},{"p":6,"m":"USEMO-EI","x":90,"y":420},{"p":6,"m":"USEMO-EI","x":100,"y":405},{"p":6,"m":"USEMO-EI","x":110,"y":390},{"p":6,"m":"USEMO-EI","x":120,"y":380},{"p":6,"m":"USEMO-EI","x":130,"y":370},{"p":6,"m":"USEMO-EI","x":140,"y":360},{"p":6,"m":"USEMO-EI","x":150,"y":355},{"p":6,"m":"USEMO-EI","x":160,"y":350},{"p":6,"m":"USEMO-EI","x":170,"y":345},{"p":6,"m":"USEMO-EI","x":180,"y":340},{"p":6,"m":"USEMO-EI","x":190,"y":337},{"p":6,"m":"USEMO-EI","x":200,"y":335},
{"p":6,"m":"qEHVI","x":0,"y":2600},{"p":6,"m":"qEHVI","x":10,"y":900},{"p":6,"m":"qEHVI","x":20,"y":650},{"p":6,"m":"qEHVI","x":30,"y":450},{"p":6,"m":"qEHVI","x":40,"y":350},{"p":6,"m":"qEHVI","x":45,"y":200},{"p":6,"m":"qEHVI","x":50,"y":160},{"p":6,"m":"qEHVI","x":60,"y":115},{"p":6,"m":"qEHVI","x":70,"y":98},{"p":6,"m":"qEHVI","x":80,"y":90},{"p":6,"m":"qEHVI","x":90,"y":82},{"p":6,"m":"qEHVI","x":100,"y":77},{"p":6,"m":"qEHVI","x":110,"y":72},{"p":6,"m":"qEHVI","x":120,"y":68},{"p":6,"m":"qEHVI","x":130,"y":64},{"p":6,"m":"qEHVI","x":140,"y":60},{"p":6,"m":"qEHVI","x":150,"y":56},{"p":6,"m":"qEHVI","x":160,"y":53},{"p":6,"m":"qEHVI","x":170,"y":51},{"p":6,"m":"qEHVI","x":180,"y":49},{"p":6,"m":"qEHVI","x":190,"y":47},{"p":6,"m":"qEHVI","x":200,"y":46},
{"p":6,"m":"DGEMO","x":0,"y":2600},{"p":6,"m":"DGEMO","x":10,"y":900},{"p":6,"m":"DGEMO","x":17,"y":700},{"p":6,"m":"DGEMO","x":20,"y":200},{"p":6,"m":"DGEMO","x":30,"y":100},{"p":6,"m":"DGEMO","x":40,"y":70},{"p":6,"m":"DGEMO","x":50,"y":56},{"p":6,"m":"DGEMO","x":60,"y":50},{"p":6,"m":"DGEMO","x":70,"y":46},{"p":6,"m":"DGEMO","x":80,"y":43},{"p":6,"m":"DGEMO","x":90,"y":40},{"p":6,"m":"DGEMO","x":100,"y":37},{"p":6,"m":"DGEMO","x":110,"y":34},{"p":6,"m":"DGEMO","x":120,"y":31},{"p":6,"m":"DGEMO","x":130,"y":28},{"p":6,"m":"DGEMO","x":140,"y":26},{"p":6,"m":"DGEMO","x":150,"y":23},{"p":6,"m":"DGEMO","x":160,"y":21},{"p":6,"m":"DGEMO","x":170,"y":19},{"p":6,"m":"DGEMO","x":180,"y":17},{"p":6,"m":"DGEMO","x":190,"y":16},{"p":6,"m":"DGEMO","x":200,"y":15},
{"p":6,"m":"PDBO","x":0,"y":2600},{"p":6,"m":"PDBO","x":10,"y":900},{"p":6,"m":"PDBO","x":20,"y":550},{"p":6,"m":"PDBO","x":30,"y":320},{"p":6,"m":"PDBO","x":40,"y":230},{"p":6,"m":"PDBO","x":50,"y":177},{"p":6,"m":"PDBO","x":60,"y":150},{"p":6,"m":"PDBO","x":70,"y":132},{"p":6,"m":"PDBO","x":80,"y":120},{"p":6,"m":"PDBO","x":90,"y":108},{"p":6,"m":"PDBO","x":100,"y":98},{"p":6,"m":"PDBO","x":110,"y":90},{"p":6,"m":"PDBO","x":120,"y":83},{"p":6,"m":"PDBO","x":130,"y":77},{"p":6,"m":"PDBO","x":140,"y":72},{"p":6,"m":"PDBO","x":150,"y":68},{"p":6,"m":"PDBO","x":160,"y":65},{"p":6,"m":"PDBO","x":170,"y":62},{"p":6,"m":"PDBO","x":180,"y":60},{"p":6,"m":"PDBO","x":190,"y":58},{"p":6,"m":"PDBO","x":200,"y":56},
{"p":6,"m":"MOBO-OSD","x":0,"y":2000},{"p":6,"m":"MOBO-OSD","x":10,"y":850},{"p":6,"m":"MOBO-OSD","x":17,"y":750},{"p":6,"m":"MOBO-OSD","x":20,"y":250},{"p":6,"m":"MOBO-OSD","x":30,"y":115},{"p":6,"m":"MOBO-OSD","x":40,"y":80},{"p":6,"m":"MOBO-OSD","x":50,"y":64},{"p":6,"m":"MOBO-OSD","x":60,"y":57},{"p":6,"m":"MOBO-OSD","x":70,"y":53},{"p":6,"m":"MOBO-OSD","x":80,"y":50},{"p":6,"m":"MOBO-OSD","x":90,"y":47},{"p":6,"m":"MOBO-OSD","x":100,"y":45},{"p":6,"m":"MOBO-OSD","x":110,"y":43},{"p":6,"m":"MOBO-OSD","x":120,"y":41},{"p":6,"m":"MOBO-OSD","x":130,"y":40},{"p":6,"m":"MOBO-OSD","x":140,"y":39},{"p":6,"m":"MOBO-OSD","x":150,"y":37},{"p":6,"m":"MOBO-OSD","x":160,"y":35},{"p":6,"m":"MOBO-OSD","x":170,"y":33},{"p":6,"m":"MOBO-OSD","x":180,"y":31},{"p":6,"m":"MOBO-OSD","x":190,"y":30},{"p":6,"m":"MOBO-OSD","x":200,"y":29},

{"p":7,"m":"NSGA-II","x":0,"y":13},{"p":7,"m":"NSGA-II","x":10,"y":10},{"p":7,"m":"NSGA-II","x":20,"y":8.8},{"p":7,"m":"NSGA-II","x":30,"y":8.2},{"p":7,"m":"NSGA-II","x":40,"y":8.0},{"p":7,"m":"NSGA-II","x":50,"y":7.8},{"p":7,"m":"NSGA-II","x":60,"y":7.0},{"p":7,"m":"NSGA-II","x":70,"y":6.2},{"p":7,"m":"NSGA-II","x":80,"y":5.7},{"p":7,"m":"NSGA-II","x":90,"y":5.3},{"p":7,"m":"NSGA-II","x":100,"y":5.0},{"p":7,"m":"NSGA-II","x":110,"y":4.75},{"p":7,"m":"NSGA-II","x":120,"y":4.5},{"p":7,"m":"NSGA-II","x":130,"y":4.3},{"p":7,"m":"NSGA-II","x":140,"y":4.15},{"p":7,"m":"NSGA-II","x":150,"y":4.05},{"p":7,"m":"NSGA-II","x":160,"y":4.0},{"p":7,"m":"NSGA-II","x":170,"y":3.95},{"p":7,"m":"NSGA-II","x":180,"y":3.9},{"p":7,"m":"NSGA-II","x":190,"y":3.85},{"p":7,"m":"NSGA-II","x":200,"y":3.8},
{"p":7,"m":"qParEGO","x":0,"y":13.5},{"p":7,"m":"qParEGO","x":10,"y":10},{"p":7,"m":"qParEGO","x":20,"y":8.8},{"p":7,"m":"qParEGO","x":30,"y":8.3},{"p":7,"m":"qParEGO","x":40,"y":8.0},{"p":7,"m":"qParEGO","x":50,"y":7.7},{"p":7,"m":"qParEGO","x":60,"y":7.5},{"p":7,"m":"qParEGO","x":70,"y":7.3},{"p":7,"m":"qParEGO","x":80,"y":7.15},{"p":7,"m":"qParEGO","x":90,"y":7.0},{"p":7,"m":"qParEGO","x":100,"y":6.9},{"p":7,"m":"qParEGO","x":110,"y":6.8},{"p":7,"m":"qParEGO","x":120,"y":6.7},{"p":7,"m":"qParEGO","x":130,"y":6.6},{"p":7,"m":"qParEGO","x":140,"y":6.5},{"p":7,"m":"qParEGO","x":150,"y":6.4},{"p":7,"m":"qParEGO","x":160,"y":6.3},{"p":7,"m":"qParEGO","x":170,"y":6.2},{"p":7,"m":"qParEGO","x":180,"y":6.1},{"p":7,"m":"qParEGO","x":190,"y":6.0},{"p":7,"m":"qParEGO","x":200,"y":5.9},
{"p":7,"m":"USEMO-EI","x":0,"y":14.5},{"p":7,"m":"USEMO-EI","x":10,"y":10},{"p":7,"m":"USEMO-EI","x":20,"y":8.2},{"p":7,"m":"USEMO-EI","x":30,"y":7.6},{"p":7,"m":"USEMO-EI","x":40,"y":7.3},{"p":7,"m":"USEMO-EI","x":50,"y":7.1},{"p":7,"m":"USEMO-EI","x":60,"y":6.9},{"p":7,"m":"USEMO-EI","x":70,"y":6.7},{"p":7,"m":"USEMO-EI","x":80,"y":6.5},{"p":7,"m":"USEMO-EI","x":90,"y":6.35},{"p":7,"m":"USEMO-EI","x":100,"y":6.2},{"p":7,"m":"USEMO-EI","x":110,"y":6.1},{"p":7,"m":"USEMO-EI","x":120,"y":6.0},{"p":7,"m":"USEMO-EI","x":130,"y":5.9},{"p":7,"m":"USEMO-EI","x":140,"y":5.8},{"p":7,"m":"USEMO-EI","x":150,"y":5.7},{"p":7,"m":"USEMO-EI","x":160,"y":5.6},{"p":7,"m":"USEMO-EI","x":170,"y":5.5},{"p":7,"m":"USEMO-EI","x":180,"y":5.45},{"p":7,"m":"USEMO-EI","x":190,"y":5.4},{"p":7,"m":"USEMO-EI","x":200,"y":5.3},
{"p":7,"m":"qEHVI","x":0,"y":13},{"p":7,"m":"qEHVI","x":10,"y":9.3},{"p":7,"m":"qEHVI","x":20,"y":7.9},{"p":7,"m":"qEHVI","x":30,"y":7.2},{"p":7,"m":"qEHVI","x":40,"y":6.7},{"p":7,"m":"qEHVI","x":50,"y":6.4},{"p":7,"m":"qEHVI","x":60,"y":6.3},{"p":7,"m":"qEHVI","x":70,"y":6.2},{"p":7,"m":"qEHVI","x":80,"y":6.0},
{"p":7,"m":"PDBO","x":0,"y":13},{"p":7,"m":"PDBO","x":10,"y":10.5},{"p":7,"m":"PDBO","x":20,"y":8.5},{"p":7,"m":"PDBO","x":30,"y":6.7},{"p":7,"m":"PDBO","x":40,"y":5.7},{"p":7,"m":"PDBO","x":50,"y":5.1},{"p":7,"m":"PDBO","x":60,"y":4.7},{"p":7,"m":"PDBO","x":70,"y":4.4},{"p":7,"m":"PDBO","x":80,"y":4.15},{"p":7,"m":"PDBO","x":90,"y":3.95},{"p":7,"m":"PDBO","x":100,"y":3.8},{"p":7,"m":"PDBO","x":110,"y":3.65},{"p":7,"m":"PDBO","x":120,"y":3.55},{"p":7,"m":"PDBO","x":130,"y":3.45},{"p":7,"m":"PDBO","x":140,"y":3.35},{"p":7,"m":"PDBO","x":150,"y":3.25},{"p":7,"m":"PDBO","x":160,"y":3.15},{"p":7,"m":"PDBO","x":170,"y":3.05},{"p":7,"m":"PDBO","x":180,"y":2.95},{"p":7,"m":"PDBO","x":190,"y":2.88},{"p":7,"m":"PDBO","x":200,"y":2.8},
{"p":7,"m":"MOBO-OSD","x":0,"y":12.5},{"p":7,"m":"MOBO-OSD","x":10,"y":9.5},{"p":7,"m":"MOBO-OSD","x":20,"y":8.5},{"p":7,"m":"MOBO-OSD","x":30,"y":8.0},{"p":7,"m":"MOBO-OSD","x":40,"y":7.8},{"p":7,"m":"MOBO-OSD","x":50,"y":7.6},{"p":7,"m":"MOBO-OSD","x":60,"y":7.3},{"p":7,"m":"MOBO-OSD","x":70,"y":7.0},{"p":7,"m":"MOBO-OSD","x":80,"y":6.8},{"p":7,"m":"MOBO-OSD","x":90,"y":6.6},{"p":7,"m":"MOBO-OSD","x":100,"y":6.3},{"p":7,"m":"MOBO-OSD","x":110,"y":6.1},{"p":7,"m":"MOBO-OSD","x":120,"y":5.9},{"p":7,"m":"MOBO-OSD","x":130,"y":5.75},{"p":7,"m":"MOBO-OSD","x":140,"y":5.6},{"p":7,"m":"MOBO-OSD","x":150,"y":5.45},{"p":7,"m":"MOBO-OSD","x":160,"y":5.3},{"p":7,"m":"MOBO-OSD","x":170,"y":5.2},{"p":7,"m":"MOBO-OSD","x":180,"y":5.1},{"p":7,"m":"MOBO-OSD","x":190,"y":5.0},{"p":7,"m":"MOBO-OSD","x":200,"y":4.9},

{"p":8,"m":"NSGA-II","x":0,"y":8000},{"p":8,"m":"NSGA-II","x":10,"y":3500},{"p":8,"m":"NSGA-II","x":20,"y":2900},{"p":8,"m":"NSGA-II","x":30,"y":2600},{"p":8,"m":"NSGA-II","x":40,"y":2450},{"p":8,"m":"NSGA-II","x":50,"y":2200},{"p":8,"m":"NSGA-II","x":60,"y":2050},{"p":8,"m":"NSGA-II","x":70,"y":1900},{"p":8,"m":"NSGA-II","x":80,"y":1800},{"p":8,"m":"NSGA-II","x":90,"y":1700},{"p":8,"m":"NSGA-II","x":100,"y":1600},{"p":8,"m":"NSGA-II","x":110,"y":1500},{"p":8,"m":"NSGA-II","x":120,"y":1400},{"p":8,"m":"NSGA-II","x":130,"y":1330},{"p":8,"m":"NSGA-II","x":140,"y":1270},{"p":8,"m":"NSGA-II","x":150,"y":1220},{"p":8,"m":"NSGA-II","x":160,"y":1150},{"p":8,"m":"NSGA-II","x":170,"y":1080},{"p":8,"m":"NSGA-II","x":180,"y":1020},{"p":8,"m":"NSGA-II","x":190,"y":980},{"p":8,"m":"NSGA-II","x":200,"y":960},
{"p":8,"m":"qParEGO","x":0,"y":8500},{"p":8,"m":"qParEGO","x":10,"y":3400},{"p":8,"m":"qParEGO","x":20,"y":2900},{"p":8,"m":"qParEGO","x":30,"y":2600},{"p":8,"m":"qParEGO","x":40,"y":2450},{"p":8,"m":"qParEGO","x":50,"y":2300},{"p":8,"m":"qParEGO","x":60,"y":2150},{"p":8,"m":"qParEGO","x":70,"y":2000},{"p":8,"m":"qParEGO","x":80,"y":1900},{"p":8,"m":"qParEGO","x":90,"y":1850},{"p":8,"m":"qParEGO","x":100,"y":1800},{"p":8,"m":"qParEGO","x":110,"y":1700},{"p":8,"m":"qParEGO","x":120,"y":1650},{"p":8,"m":"qParEGO","x":130,"y":1600},{"p":8,"m":"qParEGO","x":140,"y":1550},{"p":8,"m":"qParEGO","x":150,"y":1500},{"p":8,"m":"qParEGO","x":160,"y":1460},{"p":8,"m":"qParEGO","x":170,"y":1420},{"p":8,"m":"qParEGO","x":180,"y":1400},{"p":8,"m":"qParEGO","x":190,"y":1380},{"p":8,"m":"qParEGO","x":200,"y":1360},
{"p":8,"m":"USEMO-EI","x":0,"y":10000},{"p":8,"m":"USEMO-EI","x":10,"y":3600},{"p":8,"m":"USEMO-EI","x":20,"y":2800},{"p":8,"m":"USEMO-EI","x":30,"y":2500},{"p":8,"m":"USEMO-EI","x":40,"y":2350},{"p":8,"m":"USEMO-EI","x":50,"y":2200},{"p":8,"m":"USEMO-EI","x":60,"y":2050},{"p":8,"m":"USEMO-EI","x":70,"y":1950},{"p":8,"m":"USEMO-EI","x":80,"y":1850},{"p":8,"m":"USEMO-EI","x":90,"y":1800},{"p":8,"m":"USEMO-EI","x":100,"y":1750},{"p":8,"m":"USEMO-EI","x":110,"y":1650},{"p":8,"m":"USEMO-EI","x":120,"y":1600},{"p":8,"m":"USEMO-EI","x":130,"y":1550},{"p":8,"m":"USEMO-EI","x":140,"y":1500},{"p":8,"m":"USEMO-EI","x":150,"y":1450},{"p":8,"m":"USEMO-EI","x":160,"y":1420},{"p":8,"m":"USEMO-EI","x":170,"y":1390},{"p":8,"m":"USEMO-EI","x":180,"y":1360},{"p":8,"m":"USEMO-EI","x":190,"y":1340},{"p":8,"m":"USEMO-EI","x":200,"y":1320},
{"p":8,"m":"qEHVI","x":0,"y":8300},{"p":8,"m":"qEHVI","x":10,"y":3000},{"p":8,"m":"qEHVI","x":20,"y":2900},{"p":8,"m":"qEHVI","x":30,"y":1900},{"p":8,"m":"qEHVI","x":35,"y":900},{"p":8,"m":"qEHVI","x":40,"y":750},{"p":8,"m":"qEHVI","x":50,"y":560},{"p":8,"m":"qEHVI","x":60,"y":450},{"p":8,"m":"qEHVI","x":70,"y":400},{"p":8,"m":"qEHVI","x":80,"y":360},{"p":8,"m":"qEHVI","x":90,"y":330},{"p":8,"m":"qEHVI","x":100,"y":310},{"p":8,"m":"qEHVI","x":110,"y":290},{"p":8,"m":"qEHVI","x":120,"y":275},
{"p":8,"m":"DGEMO","x":0,"y":8000},{"p":8,"m":"DGEMO","x":10,"y":3500},{"p":8,"m":"DGEMO","x":20,"y":2800},{"p":8,"m":"DGEMO","x":24,"y":1000},{"p":8,"m":"DGEMO","x":30,"y":800},{"p":8,"m":"DGEMO","x":40,"y":650},{"p":8,"m":"DGEMO","x":50,"y":560},{"p":8,"m":"DGEMO","x":60,"y":500},
{"p":8,"m":"PDBO","x":0,"y":8000},{"p":8,"m":"PDBO","x":10,"y":4000},{"p":8,"m":"PDBO","x":20,"y":3200},{"p":8,"m":"PDBO","x":25,"y":2800},{"p":8,"m":"PDBO","x":30,"y":1300},{"p":8,"m":"PDBO","x":40,"y":850},{"p":8,"m":"PDBO","x":50,"y":680},{"p":8,"m":"PDBO","x":60,"y":600},{"p":8,"m":"PDBO","x":70,"y":540},{"p":8,"m":"PDBO","x":80,"y":500},{"p":8,"m":"PDBO","x":90,"y":470},{"p":8,"m":"PDBO","x":100,"y":450},{"p":8,"m":"PDBO","x":110,"y":420},{"p":8,"m":"PDBO","x":120,"y":400},{"p":8,"m":"PDBO","x":130,"y":380},{"p":8,"m":"PDBO","x":140,"y":365},{"p":8,"m":"PDBO","x":150,"y":350},{"p":8,"m":"PDBO","x":160,"y":330},{"p":8,"m":"PDBO","x":170,"y":310},{"p":8,"m":"PDBO","x":180,"y":295},{"p":8,"m":"PDBO","x":190,"y":285},{"p":8,"m":"PDBO","x":200,"y":277},
{"p":8,"m":"MOBO-OSD","x":0,"y":6200},{"p":8,"m":"MOBO-OSD","x":10,"y":3700},{"p":8,"m":"MOBO-OSD","x":20,"y":3100},{"p":8,"m":"MOBO-OSD","x":22,"y":950},{"p":8,"m":"MOBO-OSD","x":30,"y":700},{"p":8,"m":"MOBO-OSD","x":40,"y":550},{"p":8,"m":"MOBO-OSD","x":50,"y":480},{"p":8,"m":"MOBO-OSD","x":60,"y":420},{"p":8,"m":"MOBO-OSD","x":70,"y":380},{"p":8,"m":"MOBO-OSD","x":80,"y":340},{"p":8,"m":"MOBO-OSD","x":90,"y":300},{"p":8,"m":"MOBO-OSD","x":100,"y":280},{"p":8,"m":"MOBO-OSD","x":110,"y":265},{"p":8,"m":"MOBO-OSD","x":120,"y":250},{"p":8,"m":"MOBO-OSD","x":130,"y":240},{"p":8,"m":"MOBO-OSD","x":140,"y":235},{"p":8,"m":"MOBO-OSD","x":150,"y":230},{"p":8,"m":"MOBO-OSD","x":160,"y":225},{"p":8,"m":"MOBO-OSD","x":170,"y":222},{"p":8,"m":"MOBO-OSD","x":180,"y":220},{"p":8,"m":"MOBO-OSD","x":190,"y":217},{"p":8,"m":"MOBO-OSD","x":200,"y":215},

{"p":9,"m":"NSGA-II","x":0,"y":2.6e6},{"p":9,"m":"NSGA-II","x":10,"y":7.5e5},{"p":9,"m":"NSGA-II","x":20,"y":5.8e5},{"p":9,"m":"NSGA-II","x":30,"y":5.0e5},{"p":9,"m":"NSGA-II","x":40,"y":4.6e5},{"p":9,"m":"NSGA-II","x":50,"y":4.3e5},{"p":9,"m":"NSGA-II","x":60,"y":4.1e5},{"p":9,"m":"NSGA-II","x":70,"y":3.9e5},{"p":9,"m":"NSGA-II","x":80,"y":3.8e5},{"p":9,"m":"NSGA-II","x":90,"y":3.7e5},{"p":9,"m":"NSGA-II","x":100,"y":3.65e5},{"p":9,"m":"NSGA-II","x":110,"y":3.6e5},{"p":9,"m":"NSGA-II","x":120,"y":3.55e5},{"p":9,"m":"NSGA-II","x":130,"y":3.5e5},{"p":9,"m":"NSGA-II","x":140,"y":3.45e5},{"p":9,"m":"NSGA-II","x":150,"y":3.4e5},{"p":9,"m":"NSGA-II","x":160,"y":3.38e5},{"p":9,"m":"NSGA-II","x":170,"y":3.35e5},{"p":9,"m":"NSGA-II","x":180,"y":3.32e5},{"p":9,"m":"NSGA-II","x":190,"y":3.3e5},{"p":9,"m":"NSGA-II","x":200,"y":3.3e5},
{"p":9,"m":"qParEGO","x":0,"y":3.5e6},{"p":9,"m":"qParEGO","x":10,"y":6.8e5},{"p":9,"m":"qParEGO","x":20,"y":5.2e5},{"p":9,"m":"qParEGO","x":30,"y":4.5e5},{"p":9,"m":"qParEGO","x":40,"y":4.0e5},{"p":9,"m":"qParEGO","x":50,"y":3.6e5},{"p":9,"m":"qParEGO","x":60,"y":3.3e5},{"p":9,"m":"qParEGO","x":70,"y":3.1e5},{"p":9,"m":"qParEGO","x":80,"y":3.0e5},{"p":9,"m":"qParEGO","x":90,"y":2.9e5},{"p":9,"m":"qParEGO","x":100,"y":2.8e5},{"p":9,"m":"qParEGO","x":110,"y":2.7e5},{"p":9,"m":"qParEGO","x":120,"y":2.6e5},{"p":9,"m":"qParEGO","x":130,"y":2.5e5},{"p":9,"m":"qParEGO","x":140,"y":2.4e5},{"p":9,"m":"qParEGO","x":150,"y":2.3e5},{"p":9,"m":"qParEGO","x":160,"y":2.2e5},{"p":9,"m":"qParEGO","x":170,"y":2.15e5},{"p":9,"m":"qParEGO","x":180,"y":2.1e5},{"p":9,"m":"qParEGO","x":190,"y":2.05e5},{"p":9,"m":"qParEGO","x":200,"y":2.0e5},
{"p":9,"m":"USEMO-EI","x":0,"y":3.5e6},{"p":9,"m":"USEMO-EI","x":10,"y":7.0e5},{"p":9,"m":"USEMO-EI","x":20,"y":5.5e5},{"p":9,"m":"USEMO-EI","x":30,"y":4.8e5},{"p":9,"m":"USEMO-EI","x":40,"y":4.3e5},{"p":9,"m":"USEMO-EI","x":50,"y":4.0e5},{"p":9,"m":"USEMO-EI","x":60,"y":3.7e5},{"p":9,"m":"USEMO-EI","x":70,"y":3.4e5},{"p":9,"m":"USEMO-EI","x":80,"y":3.2e5},{"p":9,"m":"USEMO-EI","x":90,"y":3.0e5},{"p":9,"m":"USEMO-EI","x":100,"y":2.9e5},{"p":9,"m":"USEMO-EI","x":110,"y":2.8e5},{"p":9,"m":"USEMO-EI","x":120,"y":2.65e5},{"p":9,"m":"USEMO-EI","x":130,"y":2.5e5},{"p":9,"m":"USEMO-EI","x":140,"y":2.4e5},{"p":9,"m":"USEMO-EI","x":150,"y":2.3e5},{"p":9,"m":"USEMO-EI","x":160,"y":2.2e5},{"p":9,"m":"USEMO-EI","x":170,"y":2.1e5},{"p":9,"m":"USEMO-EI","x":180,"y":2.0e5},{"p":9,"m":"USEMO-EI","x":190,"y":1.95e5},{"p":9,"m":"USEMO-EI","x":200,"y":1.9e5},
{"p":9,"m":"qEHVI","x":0,"y":1.35e7},{"p":9,"m":"qEHVI","x":10,"y":4.5e5},{"p":9,"m":"qEHVI","x":20,"y":3.7e5},{"p":9,"m":"qEHVI","x":30,"y":2.5e5},{"p":9,"m":"qEHVI","x":40,"y":1.9e5},
{"p":9,"m":"PDBO","x":0,"y":3.5e6},{"p":9,"m":"PDBO","x":10,"y":7.0e5},{"p":9,"m":"PDBO","x":20,"y":5.2e5},{"p":9,"m":"PDBO","x":30,"y":4.5e5},{"p":9,"m":"PDBO","x":40,"y":4.0e5},{"p":9,"m":"PDBO","x":50,"y":3.6e5},{"p":9,"m":"PDBO","x":60,"y":3.2e5},{"p":9,"m":"PDBO","x":70,"y":2.8e5},{"p":9,"m":"PDBO","x":80,"y":2.5e5},{"p":9,"m":"PDBO","x":90,"y":2.3e5},{"p":9,"m":"PDBO","x":100,"y":2.1e5},{"p":9,"m":"PDBO","x":110,"y":1.9e5},{"p":9,"m":"PDBO","x":120,"y":1.85e5},{"p":9,"m":"PDBO","x":130,"y":1.8e5},{"p":9,"m":"PDBO","x":140,"y":1.75e5},{"p":9,"m":"PDBO","x":150,"y":1.7e5},{"p":9,"m":"PDBO","x":160,"y":1.65e5},{"p":9,"m":"PDBO","x":170,"y":1.6e5},{"p":9,"m":"PDBO","x":180,"y":1.5e5},{"p":9,"m":"PDBO","x":190,"y":1.45e5},{"p":9,"m":"PDBO","x":200,"y":1.38e5},
{"p":9,"m":"MOBO-OSD","x":0,"y":4.2e6},{"p":9,"m":"MOBO-OSD","x":10,"y":6.5e5},{"p":9,"m":"MOBO-OSD","x":20,"y":4.0e5},{"p":9,"m":"MOBO-OSD","x":30,"y":3.0e5},{"p":9,"m":"MOBO-OSD","x":40,"y":2.6e5},{"p":9,"m":"MOBO-OSD","x":50,"y":2.3e5},{"p":9,"m":"MOBO-OSD","x":60,"y":2.1e5},{"p":9,"m":"MOBO-OSD","x":70,"y":1.9e5},{"p":9,"m":"MOBO-OSD","x":80,"y":1.75e5},{"p":9,"m":"MOBO-OSD","x":90,"y":1.6e5},{"p":9,"m":"MOBO-OSD","x":98,"y":1.5e5},{"p":9,"m":"MOBO-OSD","x":100,"y":1.2e5},{"p":9,"m":"MOBO-OSD","x":110,"y":1.15e5},{"p":9,"m":"MOBO-OSD","x":120,"y":1.1e5},{"p":9,"m":"MOBO-OSD","x":130,"y":1.05e5},{"p":9,"m":"MOBO-OSD","x":140,"y":1.0e5},{"p":9,"m":"MOBO-OSD","x":150,"y":9.6e4},{"p":9,"m":"MOBO-OSD","x":160,"y":9.2e4},{"p":9,"m":"MOBO-OSD","x":170,"y":8.8e4},{"p":9,"m":"MOBO-OSD","x":180,"y":8.5e4},{"p":9,"m":"MOBO-OSD","x":190,"y":8.2e4},{"p":9,"m":"MOBO-OSD","x":200,"y":8.0e4}
]},
"columns":3,
"spacing":{"row":25,"column":30},
"bounds":"flush",
"align":"all",
"concat":[
{"title":"VLMOP2 (M=2)","width":122,"height":75,"transform":[{"filter":"datum.p==1"}],
 "encoding":{"x":{"field":"x","type":"quantitative","scale":{"domain":[-10,210],"nice":false,"zero":false},"axis":{"values":[0,100,200],"title":null}},
  "y":{"field":"y","type":"quantitative","scale":{"type":"log","domain":[0.0052,1.1],"nice":false},"axis":{"title":"Epsilon","values":[0.006,0.007,0.008,0.009,0.01,0.02,0.03,0.04,0.05,0.06,0.07,0.08,0.09,0.1,0.2,0.3,0.4,0.5,0.6,0.7,0.8,0.9,1],"labelExpr":"abs(log(datum.value)/LN10-round(log(datum.value)/LN10))<0.001?'10'+(round(log(datum.value)/LN10)<0?'⁻':'')+['⁰','¹','²','³','⁴','⁵','⁶','⁷','⁸','⁹'][abs(round(log(datum.value)/LN10))]:''","gridColor":{"condition":{"test":"abs(log(datum.value)/LN10-round(log(datum.value)/LN10))<0.001","value":"#c4c4c4"},"value":"#e2e2e2"},"tickSize":{"condition":{"test":"abs(log(datum.value)/LN10-round(log(datum.value)/LN10))<0.001","value":3.5},"value":2}}},
  "color":{"field":"m","type":"nominal","scale":{"domain":["MOBO-OSD","PDBO","DGEMO","qEHVI","USEMO-EI","qParEGO","NSGA-II"],"range":["#ff1a1a","#800080","#0000ff","#008000","#ffa500","#00ffff","#000000"]},
     "legend":{"title":null,"orient":"none","legendX":440,"legendY":84,"labelFont":"Liberation Serif","labelFontSize":10,"labelColor":"black","symbolSize":34,"symbolStrokeWidth":0,"symbolOffset":6,"labelOffset":15,"rowPadding":6.5,"padding":6,"gridAlign":"none","fillColor":"white","strokeColor":"#cccccc","cornerRadius":3,
      "labelExpr":"datum.label=='MOBO-OSD'?['MOBO-OSD','(ours)']:datum.label"}}},
 "layer":[{"mark":{"type":"line","strokeWidth":1.2}},
  {"transform":[{"filter":"datum.x%10==0"}],"mark":{"type":"point","filled":true,"size":24,"opacity":1},
   "encoding":{"shape":{"field":"m","type":"nominal","scale":{"domain":["MOBO-OSD","PDBO","DGEMO","qEHVI","USEMO-EI","qParEGO","NSGA-II"],"range":["M0,-1L0.25,-0.35L0.95,-0.31L0.4,0.12L0.59,0.81L0,0.4L-0.59,0.81L-0.4,0.12L-0.95,-0.31L-0.25,-0.35Z","M-1,-0.8L1,-0.8L0,1Z","circle","square","M-1,-0.7L-0.7,-1L0,-0.3L0.7,-1L1,-0.7L0.3,0L1,0.7L0.7,1L0,0.3L-0.7,1L-1,0.7L-0.3,0Z","M-1,0.8L1,0.8L0,-1Z","diamond"]}}}}]},
{"title":"ZDT1 (M=2)","width":122,"height":75,"transform":[{"filter":"datum.p==2"}],
 "encoding":{"x":{"field":"x","type":"quantitative","scale":{"domain":[-10,210],"nice":false,"zero":false},"axis":{"values":[0,100,200],"title":null}},
  "y":{"field":"y","type":"quantitative","scale":{"type":"log","domain":[0.005,3.6],"nice":false},"axis":{"title":null,"values":[0.005,0.006,0.007,0.008,0.009,0.01,0.02,0.03,0.04,0.05,0.06,0.07,0.08,0.09,0.1,0.2,0.3,0.4,0.5,0.6,0.7,0.8,0.9,1,2,3],"labelExpr":"abs(log(datum.value)/LN10-round(log(datum.value)/LN10))<0.001?'10'+(round(log(datum.value)/LN10)<0?'⁻':'')+['⁰','¹','²','³','⁴','⁵','⁶','⁷','⁸','⁹'][abs(round(log(datum.value)/LN10))]:''","gridColor":{"condition":{"test":"abs(log(datum.value)/LN10-round(log(datum.value)/LN10))<0.001","value":"#c4c4c4"},"value":"#e2e2e2"},"tickSize":{"condition":{"test":"abs(log(datum.value)/LN10-round(log(datum.value)/LN10))<0.001","value":3.5},"value":2}}},
  "color":{"field":"m","type":"nominal","scale":{"domain":["MOBO-OSD","PDBO","DGEMO","qEHVI","USEMO-EI","qParEGO","NSGA-II"],"range":["#ff1a1a","#800080","#0000ff","#008000","#ffa500","#00ffff","#000000"]}}},
 "layer":[{"mark":{"type":"line","strokeWidth":1.2}},
  {"transform":[{"filter":"datum.x%10==0"}],"mark":{"type":"point","filled":true,"size":24,"opacity":1},
   "encoding":{"shape":{"field":"m","type":"nominal","scale":{"domain":["MOBO-OSD","PDBO","DGEMO","qEHVI","USEMO-EI","qParEGO","NSGA-II"],"range":["M0,-1L0.25,-0.35L0.95,-0.31L0.4,0.12L0.59,0.81L0,0.4L-0.59,0.81L-0.4,0.12L-0.95,-0.31L-0.25,-0.35Z","M-1,-0.8L1,-0.8L0,1Z","circle","square","M-1,-0.7L-0.7,-1L0,-0.3L0.7,-1L1,-0.7L0.3,0L1,0.7L0.7,1L0,0.3L-0.7,1L-1,0.7L-0.3,0Z","M-1,0.8L1,0.8L0,-1Z","diamond"]}}}}]},
{"title":"DTLZ2-M2","width":122,"height":75,"transform":[{"filter":"datum.p==3"}],
 "encoding":{"x":{"field":"x","type":"quantitative","scale":{"domain":[-10,210],"nice":false,"zero":false},"axis":{"values":[0,100,200],"title":null}},
  "y":{"field":"y","type":"quantitative","scale":{"type":"log","domain":[0.0033,1.5],"nice":false},"axis":{"title":null,"values":[0.004,0.005,0.006,0.007,0.008,0.009,0.01,0.02,0.03,0.04,0.05,0.06,0.07,0.08,0.09,0.1,0.2,0.3,0.4,0.5,0.6,0.7,0.8,0.9,1],"labelExpr":"abs(log(datum.value)/LN10-round(log(datum.value)/LN10))<0.001?'10'+(round(log(datum.value)/LN10)<0?'⁻':'')+['⁰','¹','²','³','⁴','⁵','⁶','⁷','⁸','⁹'][abs(round(log(datum.value)/LN10))]:''","gridColor":{"condition":{"test":"abs(log(datum.value)/LN10-round(log(datum.value)/LN10))<0.001","value":"#c4c4c4"},"value":"#e2e2e2"},"tickSize":{"condition":{"test":"abs(log(datum.value)/LN10-round(log(datum.value)/LN10))<0.001","value":3.5},"value":2}}},
  "color":{"field":"m","type":"nominal","scale":{"domain":["MOBO-OSD","PDBO","DGEMO","qEHVI","USEMO-EI","qParEGO","NSGA-II"],"range":["#ff1a1a","#800080","#0000ff","#008000","#ffa500","#00ffff","#000000"]}}},
 "layer":[{"mark":{"type":"line","strokeWidth":1.2}},
  {"transform":[{"filter":"datum.x%10==0"}],"mark":{"type":"point","filled":true,"size":24,"opacity":1},
   "encoding":{"shape":{"field":"m","type":"nominal","scale":{"domain":["MOBO-OSD","PDBO","DGEMO","qEHVI","USEMO-EI","qParEGO","NSGA-II"],"range":["M0,-1L0.25,-0.35L0.95,-0.31L0.4,0.12L0.59,0.81L0,0.4L-0.59,0.81L-0.4,0.12L-0.95,-0.31L-0.25,-0.35Z","M-1,-0.8L1,-0.8L0,1Z","circle","square","M-1,-0.7L-0.7,-1L0,-0.3L0.7,-1L1,-0.7L0.3,0L1,0.7L0.7,1L0,0.3L-0.7,1L-1,0.7L-0.3,0Z","M-1,0.8L1,0.8L0,-1Z","diamond"]}}}}]},
{"title":"DTLZ2-M3","width":122,"height":75,"transform":[{"filter":"datum.p==4"}],
 "encoding":{"x":{"field":"x","type":"quantitative","scale":{"domain":[-10,210],"nice":false,"zero":false},"axis":{"values":[0,100,200],"title":null}},
  "y":{"field":"y","type":"quantitative","scale":{"type":"log","domain":[0.052,1.25],"nice":false},"axis":{"title":"Epsilon","values":[0.06,0.07,0.08,0.09,0.1,0.2,0.3,0.4,0.5,0.6,0.7,0.8,0.9,1],"labelExpr":"abs(log(datum.value)/LN10-round(log(datum.value)/LN10))<0.001?'10'+(round(log(datum.value)/LN10)<0?'⁻':'')+['⁰','¹','²','³','⁴','⁵','⁶','⁷','⁸','⁹'][abs(round(log(datum.value)/LN10))]:''","gridColor":{"condition":{"test":"abs(log(datum.value)/LN10-round(log(datum.value)/LN10))<0.001","value":"#c4c4c4"},"value":"#e2e2e2"},"tickSize":{"condition":{"test":"abs(log(datum.value)/LN10-round(log(datum.value)/LN10))<0.001","value":3.5},"value":2}}},
  "color":{"field":"m","type":"nominal","scale":{"domain":["MOBO-OSD","PDBO","DGEMO","qEHVI","USEMO-EI","qParEGO","NSGA-II"],"range":["#ff1a1a","#800080","#0000ff","#008000","#ffa500","#00ffff","#000000"]}}},
 "layer":[{"mark":{"type":"line","strokeWidth":1.2}},
  {"transform":[{"filter":"datum.x%10==0"}],"mark":{"type":"point","filled":true,"size":24,"opacity":1},
   "encoding":{"shape":{"field":"m","type":"nominal","scale":{"domain":["MOBO-OSD","PDBO","DGEMO","qEHVI","USEMO-EI","qParEGO","NSGA-II"],"range":["M0,-1L0.25,-0.35L0.95,-0.31L0.4,0.12L0.59,0.81L0,0.4L-0.59,0.81L-0.4,0.12L-0.95,-0.31L-0.25,-0.35Z","M-1,-0.8L1,-0.8L0,1Z","circle","square","M-1,-0.7L-0.7,-1L0,-0.3L0.7,-1L1,-0.7L0.3,0L1,0.7L0.7,1L0,0.3L-0.7,1L-1,0.7L-0.3,0Z","M-1,0.8L1,0.8L0,-1Z","diamond"]}}}}]},
{"title":"DTLZ2-M4","width":122,"height":75,"transform":[{"filter":"datum.p==5"}],
 "encoding":{"x":{"field":"x","type":"quantitative","scale":{"domain":[-10,210],"nice":false,"zero":false},"axis":{"values":[0,100,200],"title":null}},
  "y":{"field":"y","type":"quantitative","scale":{"type":"log","domain":[0.103,1.07],"nice":false},"axis":{"title":null,"values":[0.2,0.3,0.4,0.5,0.6,0.7,0.8,0.9,1],"labelExpr":"abs(log(datum.value)/LN10-round(log(datum.value)/LN10))<0.001?'10'+(round(log(datum.value)/LN10)<0?'⁻':'')+['⁰','¹','²','³','⁴','⁵','⁶','⁷','⁸','⁹'][abs(round(log(datum.value)/LN10))]:''","gridColor":{"condition":{"test":"abs(log(datum.value)/LN10-round(log(datum.value)/LN10))<0.001","value":"#c4c4c4"},"value":"#e2e2e2"},"tickSize":{"condition":{"test":"abs(log(datum.value)/LN10-round(log(datum.value)/LN10))<0.001","value":3.5},"value":2}}},
  "color":{"field":"m","type":"nominal","scale":{"domain":["MOBO-OSD","PDBO","DGEMO","qEHVI","USEMO-EI","qParEGO","NSGA-II"],"range":["#ff1a1a","#800080","#0000ff","#008000","#ffa500","#00ffff","#000000"]}}},
 "layer":[{"mark":{"type":"line","strokeWidth":1.2}},
  {"transform":[{"filter":"datum.x%10==0"}],"mark":{"type":"point","filled":true,"size":24,"opacity":1},
   "encoding":{"shape":{"field":"m","type":"nominal","scale":{"domain":["MOBO-OSD","PDBO","DGEMO","qEHVI","USEMO-EI","qParEGO","NSGA-II"],"range":["M0,-1L0.25,-0.35L0.95,-0.31L0.4,0.12L0.59,0.81L0,0.4L-0.59,0.81L-0.4,0.12L-0.95,-0.31L-0.25,-0.35Z","M-1,-0.8L1,-0.8L0,1Z","circle","square","M-1,-0.7L-0.7,-1L0,-0.3L0.7,-1L1,-0.7L0.3,0L1,0.7L0.7,1L0,0.3L-0.7,1L-1,0.7L-0.3,0Z","M-1,0.8L1,0.8L0,-1Z","diamond"]}}}}]},
{"title":"Speed Reducer (M=3)","width":122,"height":75,"transform":[{"filter":"datum.p==6"}],
 "encoding":{"x":{"field":"x","type":"quantitative","scale":{"domain":[-10,210],"nice":false,"zero":false},"axis":{"values":[0,100,200],"title":null}},
  "y":{"field":"y","type":"quantitative","scale":{"type":"log","domain":[9.8,2950],"nice":false},"axis":{"title":null,"values":[10,20,30,40,50,60,70,80,90,100,200,300,400,500,600,700,800,900,1000,2000],"labelExpr":"abs(log(datum.value)/LN10-round(log(datum.value)/LN10))<0.001?'10'+(round(log(datum.value)/LN10)<0?'⁻':'')+['⁰','¹','²','³','⁴','⁵','⁶','⁷','⁸','⁹'][abs(round(log(datum.value)/LN10))]:''","gridColor":{"condition":{"test":"abs(log(datum.value)/LN10-round(log(datum.value)/LN10))<0.001","value":"#c4c4c4"},"value":"#e2e2e2"},"tickSize":{"condition":{"test":"abs(log(datum.value)/LN10-round(log(datum.value)/LN10))<0.001","value":3.5},"value":2}}},
  "color":{"field":"m","type":"nominal","scale":{"domain":["MOBO-OSD","PDBO","DGEMO","qEHVI","USEMO-EI","qParEGO","NSGA-II"],"range":["#ff1a1a","#800080","#0000ff","#008000","#ffa500","#00ffff","#000000"]}}},
 "layer":[{"mark":{"type":"line","strokeWidth":1.2}},
  {"transform":[{"filter":"datum.x%10==0"}],"mark":{"type":"point","filled":true,"size":24,"opacity":1},
   "encoding":{"shape":{"field":"m","type":"nominal","scale":{"domain":["MOBO-OSD","PDBO","DGEMO","qEHVI","USEMO-EI","qParEGO","NSGA-II"],"range":["M0,-1L0.25,-0.35L0.95,-0.31L0.4,0.12L0.59,0.81L0,0.4L-0.59,0.81L-0.4,0.12L-0.95,-0.31L-0.25,-0.35Z","M-1,-0.8L1,-0.8L0,1Z","circle","square","M-1,-0.7L-0.7,-1L0,-0.3L0.7,-1L1,-0.7L0.3,0L1,0.7L0.7,1L0,0.3L-0.7,1L-1,0.7L-0.3,0Z","M-1,0.8L1,0.8L0,-1Z","diamond"]}}}}]},
{"title":"Car Side Design (M=4)","width":122,"height":75,"transform":[{"filter":"datum.p==7"}],
 "encoding":{"x":{"field":"x","type":"quantitative","scale":{"domain":[-10,210],"nice":false,"zero":false},"axis":{"values":[0,100,200],"title":"Number of evaluations"}},
  "y":{"field":"y","type":"quantitative","scale":{"type":"log","domain":[2.3,16],"nice":false},"axis":{"title":"Epsilon","values":[3,4,5,6,7,8,9,10],"labelExpr":"abs(log(datum.value)/LN10-round(log(datum.value)/LN10))<0.001?'10'+(round(log(datum.value)/LN10)<0?'⁻':'')+['⁰','¹','²','³','⁴','⁵','⁶','⁷','⁸','⁹'][abs(round(log(datum.value)/LN10))]:''","gridColor":{"condition":{"test":"abs(log(datum.value)/LN10-round(log(datum.value)/LN10))<0.001","value":"#c4c4c4"},"value":"#e2e2e2"},"tickSize":{"condition":{"test":"abs(log(datum.value)/LN10-round(log(datum.value)/LN10))<0.001","value":3.5},"value":2}}},
  "color":{"field":"m","type":"nominal","scale":{"domain":["MOBO-OSD","PDBO","DGEMO","qEHVI","USEMO-EI","qParEGO","NSGA-II"],"range":["#ff1a1a","#800080","#0000ff","#008000","#ffa500","#00ffff","#000000"]}}},
 "layer":[{"mark":{"type":"line","strokeWidth":1.2}},
  {"transform":[{"filter":"datum.x%10==0"}],"mark":{"type":"point","filled":true,"size":24,"opacity":1},
   "encoding":{"shape":{"field":"m","type":"nominal","scale":{"domain":["MOBO-OSD","PDBO","DGEMO","qEHVI","USEMO-EI","qParEGO","NSGA-II"],"range":["M0,-1L0.25,-0.35L0.95,-0.31L0.4,0.12L0.59,0.81L0,0.4L-0.59,0.81L-0.4,0.12L-0.95,-0.31L-0.25,-0.35Z","M-1,-0.8L1,-0.8L0,1Z","circle","square","M-1,-0.7L-0.7,-1L0,-0.3L0.7,-1L1,-0.7L0.3,0L1,0.7L0.7,1L0,0.3L-0.7,1L-1,0.7L-0.3,0Z","M-1,0.8L1,0.8L0,-1Z","diamond"]}}}}]},
{"title":"Marine Design (M=4)","width":122,"height":75,"transform":[{"filter":"datum.p==8"}],
 "encoding":{"x":{"field":"x","type":"quantitative","scale":{"domain":[-10,210],"nice":false,"zero":false},"axis":{"values":[0,100,200],"title":"Number of evaluations"}},
  "y":{"field":"y","type":"quantitative","scale":{"type":"log","domain":[158,12600],"nice":false},"axis":{"title":null,"values":[200,300,400,500,600,700,800,900,1000,2000,3000,4000,5000,6000,7000,8000,9000,10000],"labelExpr":"abs(log(datum.value)/LN10-round(log(datum.value)/LN10))<0.001?'10'+(round(log(datum.value)/LN10)<0?'⁻':'')+['⁰','¹','²','³','⁴','⁵','⁶','⁷','⁸','⁹'][abs(round(log(datum.value)/LN10))]:''","gridColor":{"condition":{"test":"abs(log(datum.value)/LN10-round(log(datum.value)/LN10))<0.001","value":"#c4c4c4"},"value":"#e2e2e2"},"tickSize":{"condition":{"test":"abs(log(datum.value)/LN10-round(log(datum.value)/LN10))<0.001","value":3.5},"value":2}}},
  "color":{"field":"m","type":"nominal","scale":{"domain":["MOBO-OSD","PDBO","DGEMO","qEHVI","USEMO-EI","qParEGO","NSGA-II"],"range":["#ff1a1a","#800080","#0000ff","#008000","#ffa500","#00ffff","#000000"]}}},
 "layer":[{"mark":{"type":"line","strokeWidth":1.2}},
  {"transform":[{"filter":"datum.x%10==0"}],"mark":{"type":"point","filled":true,"size":24,"opacity":1},
   "encoding":{"shape":{"field":"m","type":"nominal","scale":{"domain":["MOBO-OSD","PDBO","DGEMO","qEHVI","USEMO-EI","qParEGO","NSGA-II"],"range":["M0,-1L0.25,-0.35L0.95,-0.31L0.4,0.12L0.59,0.81L0,0.4L-0.59,0.81L-0.4,0.12L-0.95,-0.31L-0.25,-0.35Z","M-1,-0.8L1,-0.8L0,1Z","circle","square","M-1,-0.7L-0.7,-1L0,-0.3L0.7,-1L1,-0.7L0.3,0L1,0.7L0.7,1L0,0.3L-0.7,1L-1,0.7L-0.3,0Z","M-1,0.8L1,0.8L0,-1Z","diamond"]}}}}]},
{"title":"Water Planning (M=6)","width":122,"height":75,"transform":[{"filter":"datum.p==9"}],
 "encoding":{"x":{"field":"x","type":"quantitative","scale":{"domain":[-10,210],"nice":false,"zero":false},"axis":{"values":[0,100,200],"title":"Number of evaluations"}},
  "y":{"field":"y","type":"quantitative","scale":{"type":"log","domain":[55000,1.56e7],"nice":false},"axis":{"title":null,"values":[60000,70000,80000,90000,100000,200000,300000,400000,500000,600000,700000,800000,900000,1000000,2000000,3000000,4000000,5000000,6000000,7000000,8000000,9000000,10000000],"labelExpr":"abs(log(datum.value)/LN10-round(log(datum.value)/LN10))<0.001?'10'+(round(log(datum.value)/LN10)<0?'⁻':'')+['⁰','¹','²','³','⁴','⁵','⁶','⁷','⁸','⁹'][abs(round(log(datum.value)/LN10))]:''","gridColor":{"condition":{"test":"abs(log(datum.value)/LN10-round(log(datum.value)/LN10))<0.001","value":"#c4c4c4"},"value":"#e2e2e2"},"tickSize":{"condition":{"test":"abs(log(datum.value)/LN10-round(log(datum.value)/LN10))<0.001","value":3.5},"value":2}}},
  "color":{"field":"m","type":"nominal","scale":{"domain":["MOBO-OSD","PDBO","DGEMO","qEHVI","USEMO-EI","qParEGO","NSGA-II"],"range":["#ff1a1a","#800080","#0000ff","#008000","#ffa500","#00ffff","#000000"]}}},
 "layer":[{"mark":{"type":"line","strokeWidth":1.2}},
  {"transform":[{"filter":"datum.x%10==0"}],"mark":{"type":"point","filled":true,"size":24,"opacity":1},
   "encoding":{"shape":{"field":"m","type":"nominal","scale":{"domain":["MOBO-OSD","PDBO","DGEMO","qEHVI","USEMO-EI","qParEGO","NSGA-II"],"range":["M0,-1L0.25,-0.35L0.95,-0.31L0.4,0.12L0.59,0.81L0,0.4L-0.59,0.81L-0.4,0.12L-0.95,-0.31L-0.25,-0.35Z","M-1,-0.8L1,-0.8L0,1Z","circle","square","M-1,-0.7L-0.7,-1L0,-0.3L0.7,-1L1,-0.7L0.3,0L1,0.7L0.7,1L0,0.3L-0.7,1L-1,0.7L-0.3,0Z","M-1,0.8L1,0.8L0,-1Z","diamond"]}}}}]}
],
"config":{
 "view":{"stroke":"black","strokeWidth":0.8},
 "axis":{"labelFont":"Liberation Serif","labelFontSize":10,"labelColor":"black","titleFont":"Liberation Serif","titleFontSize":10,"titleFontWeight":"normal","titleColor":"black","domainColor":"black","domainWidth":0.8,"tickColor":"black","tickWidth":0.8,"gridWidth":0.7,"labelOverlap":false,"labelBound":false,"labelFlush":false},
 "axisX":{"gridColor":"#dddddd","tickSize":3,"labelPadding":0,"titlePadding":0},
 "axisY":{"labelPadding":1,"titlePadding":2},
 "title":{"font":"Liberation Serif","fontSize":11,"fontWeight":"normal","color":"black","offset":1,"dy":4,"frame":"group"}
}
}
